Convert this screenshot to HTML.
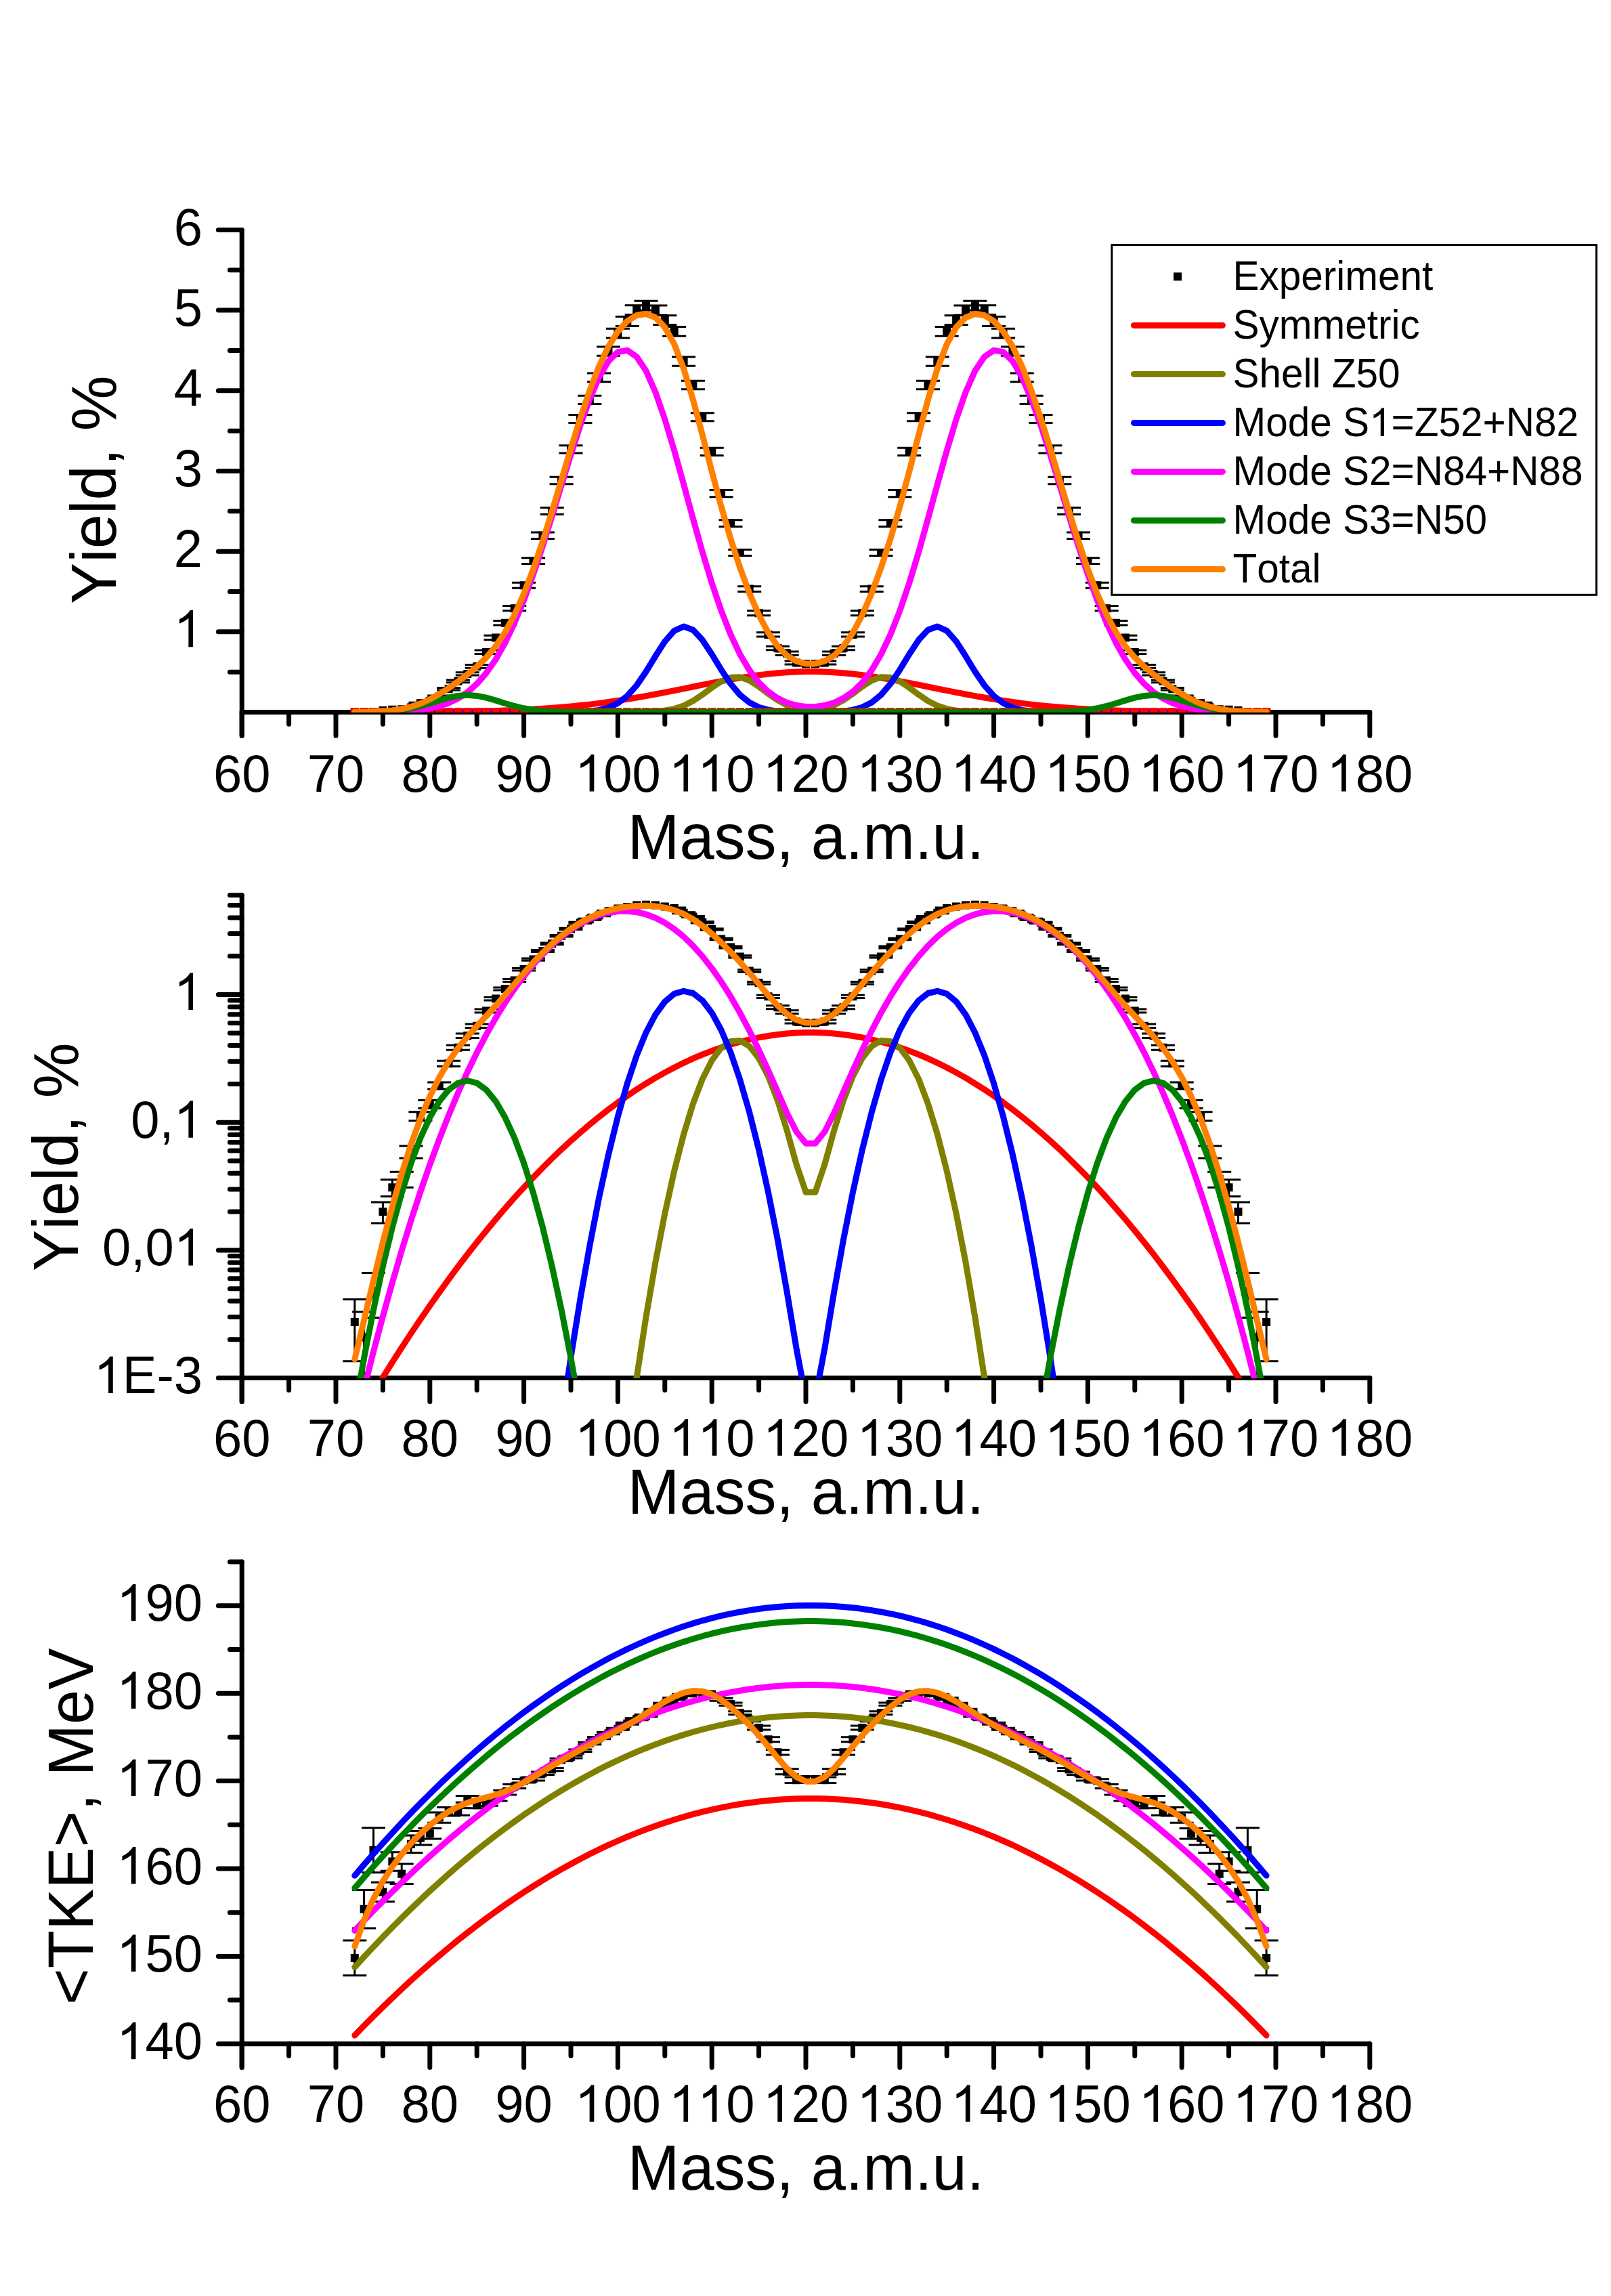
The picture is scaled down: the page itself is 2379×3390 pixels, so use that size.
<!DOCTYPE html><html><head><meta charset="utf-8"><style>html,body{margin:0;padding:0;background:#fff;}svg{display:block;}text{font-family:"Liberation Sans",sans-serif;fill:#000;font-kerning:none;}</style></head><body>
<svg width="2379" height="3390" viewBox="0 0 2379 3390">
<rect width="2379" height="3390" fill="#fff"/>
<path d="M357.2 339.5 V1086.3" stroke="#000" stroke-width="7" stroke-linecap="round" fill="none"/><path d="M357.2 992.2 H339.4 M357.2 932.8 H322.4 M357.2 873.5 H339.4 M357.2 814.2 H322.4 M357.2 754.8 H339.4 M357.2 695.5 H322.4 M357.2 636.2 H339.4 M357.2 576.8 H322.4 M357.2 517.5 H339.4 M357.2 458.1 H322.4 M357.2 398.8 H339.4 M357.2 339.5 H322.4 " stroke="#000" stroke-width="7" stroke-linecap="round" fill="none"/><text transform="translate(256.73,955.33) scale(1,1.035)" font-size="76"> </text><path transform="translate(256.73,955.33) scale(0.03711,-0.03711)" d="M763 0H583V1147Q518 1085 412 1023Q306 961 222 930V1104Q373 1175 486 1276Q599 1377 646 1466H763Z"/><text transform="translate(256.73,836.66) scale(1,1.035)" font-size="76">2</text><text transform="translate(256.73,717.99) scale(1,1.035)" font-size="76">3</text><text transform="translate(256.73,599.32) scale(1,1.035)" font-size="76">4</text><text transform="translate(256.73,480.65) scale(1,1.035)" font-size="76">5</text><text transform="translate(256.73,361.98) scale(1,1.035)" font-size="76">6</text><path d="M357.2 1051.5 H2022.8" stroke="#000" stroke-width="7" stroke-linecap="round" fill="none"/><path d="M357.2 1051.5 V1086.3 M426.6 1051.5 V1069.3 M496.0 1051.5 V1086.3 M565.4 1051.5 V1069.3 M634.8 1051.5 V1086.3 M704.2 1051.5 V1069.3 M773.6 1051.5 V1086.3 M843.0 1051.5 V1069.3 M912.4 1051.5 V1086.3 M981.8 1051.5 V1069.3 M1051.2 1051.5 V1086.3 M1120.6 1051.5 V1069.3 M1190.0 1051.5 V1086.3 M1259.4 1051.5 V1069.3 M1328.8 1051.5 V1086.3 M1398.2 1051.5 V1069.3 M1467.6 1051.5 V1086.3 M1537.0 1051.5 V1069.3 M1606.4 1051.5 V1086.3 M1675.8 1051.5 V1069.3 M1745.2 1051.5 V1086.3 M1814.6 1051.5 V1069.3 M1884.0 1051.5 V1086.3 M1953.4 1051.5 V1069.3 M2022.8 1051.5 V1086.3 " stroke="#000" stroke-width="7" stroke-linecap="round" fill="none"/><text transform="translate(314.93,1168.50) scale(1,1.035)" font-size="76">60</text><text transform="translate(453.73,1168.50) scale(1,1.035)" font-size="76">70</text><text transform="translate(592.53,1168.50) scale(1,1.035)" font-size="76">80</text><text transform="translate(731.33,1168.50) scale(1,1.035)" font-size="76">90</text><text transform="translate(849.00,1168.50) scale(1,1.035)" font-size="76"> 00</text><path transform="translate(849.00,1168.50) scale(0.03711,-0.03711)" d="M763 0H583V1147Q518 1085 412 1023Q306 961 222 930V1104Q373 1175 486 1276Q599 1377 646 1466H763Z"/><text transform="translate(987.80,1168.50) scale(1,1.035)" font-size="76">  0</text><path transform="translate(987.80,1168.50) scale(0.03711,-0.03711)" d="M763 0H583V1147Q518 1085 412 1023Q306 961 222 930V1104Q373 1175 486 1276Q599 1377 646 1466H763Z"/><path transform="translate(1030.07,1168.50) scale(0.03711,-0.03711)" d="M763 0H583V1147Q518 1085 412 1023Q306 961 222 930V1104Q373 1175 486 1276Q599 1377 646 1466H763Z"/><text transform="translate(1126.60,1168.50) scale(1,1.035)" font-size="76"> 20</text><path transform="translate(1126.60,1168.50) scale(0.03711,-0.03711)" d="M763 0H583V1147Q518 1085 412 1023Q306 961 222 930V1104Q373 1175 486 1276Q599 1377 646 1466H763Z"/><text transform="translate(1265.40,1168.50) scale(1,1.035)" font-size="76"> 30</text><path transform="translate(1265.40,1168.50) scale(0.03711,-0.03711)" d="M763 0H583V1147Q518 1085 412 1023Q306 961 222 930V1104Q373 1175 486 1276Q599 1377 646 1466H763Z"/><text transform="translate(1404.20,1168.50) scale(1,1.035)" font-size="76"> 40</text><path transform="translate(1404.20,1168.50) scale(0.03711,-0.03711)" d="M763 0H583V1147Q518 1085 412 1023Q306 961 222 930V1104Q373 1175 486 1276Q599 1377 646 1466H763Z"/><text transform="translate(1543.00,1168.50) scale(1,1.035)" font-size="76"> 50</text><path transform="translate(1543.00,1168.50) scale(0.03711,-0.03711)" d="M763 0H583V1147Q518 1085 412 1023Q306 961 222 930V1104Q373 1175 486 1276Q599 1377 646 1466H763Z"/><text transform="translate(1681.80,1168.50) scale(1,1.035)" font-size="76"> 60</text><path transform="translate(1681.80,1168.50) scale(0.03711,-0.03711)" d="M763 0H583V1147Q518 1085 412 1023Q306 961 222 930V1104Q373 1175 486 1276Q599 1377 646 1466H763Z"/><text transform="translate(1820.60,1168.50) scale(1,1.035)" font-size="76"> 70</text><path transform="translate(1820.60,1168.50) scale(0.03711,-0.03711)" d="M763 0H583V1147Q518 1085 412 1023Q306 961 222 930V1104Q373 1175 486 1276Q599 1377 646 1466H763Z"/><text transform="translate(1959.40,1168.50) scale(1,1.035)" font-size="76"> 80</text><path transform="translate(1959.40,1168.50) scale(0.03711,-0.03711)" d="M763 0H583V1147Q518 1085 412 1023Q306 961 222 930V1104Q373 1175 486 1276Q599 1377 646 1466H763Z"/><text transform="translate(1190,1267.9) scale(1,1.035)" font-size="92" text-anchor="middle">Mass, a.m.u.</text><text transform="translate(170.9,892.0) rotate(-90) scale(1,1.035)" font-size="92">Yield, %</text><defs><clipPath id="c1"><rect x="0" y="200" width="2379" height="852"/></clipPath></defs><g clip-path="url(#c1)"><path d="M523.8 1051.0 V1051.3 M506.3 1051.0 H541.3 M506.3 1051.3 H541.3 M537.6 1051.1 V1051.4 M520.1 1051.1 H555.1 M520.1 1051.4 H555.1 M551.5 1050.7 V1051.1 M534.0 1050.7 H569.0 M534.0 1051.1 H569.0 M565.4 1048.7 V1049.6 M547.9 1048.7 H582.9 M547.9 1049.6 H582.9 M579.3 1047.3 V1048.4 M561.8 1047.3 H596.8 M561.8 1048.4 H596.8 M593.2 1046.6 V1047.8 M575.7 1046.6 H610.7 M575.7 1047.8 H610.7 M607.0 1043.7 V1045.3 M589.5 1043.7 H624.5 M589.5 1045.3 H624.5 M620.9 1037.2 V1039.3 M603.4 1037.2 H638.4 M603.4 1039.3 H638.4 M634.8 1033.8 V1036.2 M617.3 1033.8 H652.3 M617.3 1036.2 H652.3 M648.7 1027.1 V1029.9 M631.2 1027.1 H666.2 M631.2 1029.9 H666.2 M662.6 1015.5 V1018.9 M645.1 1015.5 H680.1 M645.1 1018.9 H680.1 M676.4 1003.9 V1007.8 M658.9 1003.9 H693.9 M658.9 1007.8 H693.9 M690.3 992.7 V997.1 M672.8 992.7 H707.8 M672.8 997.1 H707.8 M704.2 981.6 V986.3 M686.7 981.6 H721.7 M686.7 986.3 H721.7 M718.1 960.1 V965.6 M700.6 960.1 H735.6 M700.6 965.6 H735.6 M732.0 938.3 V944.4 M714.5 938.3 H749.5 M714.5 944.4 H749.5 M745.8 916.5 V923.1 M728.3 916.5 H763.3 M728.3 923.1 H763.3 M759.7 894.6 V901.7 M742.2 894.6 H777.2 M742.2 901.7 H777.2 M773.6 860.3 V868.2 M756.1 860.3 H791.1 M756.1 868.2 H791.1 M787.5 823.7 V832.4 M770.0 823.7 H805.0 M770.0 832.4 H805.0 M801.4 786.1 V795.4 M783.9 786.1 H818.9 M783.9 795.4 H818.9 M815.2 749.5 V759.4 M797.7 749.5 H832.7 M797.7 759.4 H832.7 M829.1 704.2 V714.8 M811.6 704.2 H846.6 M811.6 714.8 H846.6 M843.0 657.8 V669.1 M825.5 657.8 H860.5 M825.5 669.1 H860.5 M856.9 612.4 V624.4 M839.4 612.4 H874.4 M839.4 624.4 H874.4 M870.8 584.2 V596.5 M853.3 584.2 H888.3 M853.3 596.5 H888.3 M884.6 551.0 V563.8 M867.1 551.0 H902.1 M867.1 563.8 H902.1 M898.5 512.0 V525.3 M881.0 512.0 H916.0 M881.0 525.3 H916.0 M912.4 485.3 V498.9 M894.9 485.3 H929.9 M894.9 498.9 H929.9 M926.3 467.6 V481.4 M908.8 467.6 H943.8 M908.8 481.4 H943.8 M940.2 450.7 V464.7 M922.7 450.7 H957.7 M922.7 464.7 H957.7 M954.0 444.2 V458.3 M936.5 444.2 H971.5 M936.5 458.3 H971.5 M967.9 451.1 V465.2 M950.4 451.1 H985.4 M950.4 465.2 H985.4 M981.8 465.7 V479.6 M964.3 465.7 H999.3 M964.3 479.6 H999.3 M995.7 482.5 V496.2 M978.2 482.5 H1013.2 M978.2 496.2 H1013.2 M1009.6 527.1 V540.2 M992.1 527.1 H1027.1 M992.1 540.2 H1027.1 M1023.4 562.2 V574.8 M1005.9 562.2 H1040.9 M1005.9 574.8 H1040.9 M1037.3 609.7 V621.8 M1019.8 609.7 H1054.8 M1019.8 621.8 H1054.8 M1051.2 661.2 V672.5 M1033.7 661.2 H1068.7 M1033.7 672.5 H1068.7 M1065.1 723.4 V733.8 M1047.6 723.4 H1082.6 M1047.6 733.8 H1082.6 M1079.0 767.8 V777.4 M1061.5 767.8 H1096.5 M1061.5 777.4 H1096.5 M1092.8 811.6 V820.5 M1075.3 811.6 H1110.3 M1075.3 820.5 H1110.3 M1106.7 865.7 V873.5 M1089.2 865.7 H1124.2 M1089.2 873.5 H1124.2 M1120.6 901.7 V908.7 M1103.1 901.7 H1138.1 M1103.1 908.7 H1138.1 M1134.5 933.8 V940.0 M1117.0 933.8 H1152.0 M1117.0 940.0 H1152.0 M1148.4 954.2 V959.8 M1130.9 954.2 H1165.9 M1130.9 959.8 H1165.9 M1162.2 962.1 V967.4 M1144.7 962.1 H1179.7 M1144.7 967.4 H1179.7 M1176.1 975.9 V980.9 M1158.6 975.9 H1193.6 M1158.6 980.9 H1193.6 M1190.0 977.9 V982.7 M1172.5 977.9 H1207.5 M1172.5 982.7 H1207.5 M1203.9 977.9 V982.7 M1186.4 977.9 H1221.4 M1186.4 982.7 H1221.4 M1217.8 975.9 V980.9 M1200.3 975.9 H1235.3 M1200.3 980.9 H1235.3 M1231.6 962.1 V967.4 M1214.1 962.1 H1249.1 M1214.1 967.4 H1249.1 M1245.5 954.2 V959.8 M1228.0 954.2 H1263.0 M1228.0 959.8 H1263.0 M1259.4 933.8 V940.0 M1241.9 933.8 H1276.9 M1241.9 940.0 H1276.9 M1273.3 901.7 V908.7 M1255.8 901.7 H1290.8 M1255.8 908.7 H1290.8 M1287.2 865.7 V873.5 M1269.7 865.7 H1304.7 M1269.7 873.5 H1304.7 M1301.0 811.6 V820.5 M1283.5 811.6 H1318.5 M1283.5 820.5 H1318.5 M1314.9 767.8 V777.4 M1297.4 767.8 H1332.4 M1297.4 777.4 H1332.4 M1328.8 723.4 V733.8 M1311.3 723.4 H1346.3 M1311.3 733.8 H1346.3 M1342.7 661.2 V672.5 M1325.2 661.2 H1360.2 M1325.2 672.5 H1360.2 M1356.6 609.7 V621.8 M1339.1 609.7 H1374.1 M1339.1 621.8 H1374.1 M1370.4 562.2 V574.8 M1352.9 562.2 H1387.9 M1352.9 574.8 H1387.9 M1384.3 527.1 V540.2 M1366.8 527.1 H1401.8 M1366.8 540.2 H1401.8 M1398.2 482.5 V496.2 M1380.7 482.5 H1415.7 M1380.7 496.2 H1415.7 M1412.1 465.7 V479.6 M1394.6 465.7 H1429.6 M1394.6 479.6 H1429.6 M1426.0 451.1 V465.2 M1408.5 451.1 H1443.5 M1408.5 465.2 H1443.5 M1439.8 444.2 V458.3 M1422.3 444.2 H1457.3 M1422.3 458.3 H1457.3 M1453.7 450.7 V464.7 M1436.2 450.7 H1471.2 M1436.2 464.7 H1471.2 M1467.6 467.6 V481.4 M1450.1 467.6 H1485.1 M1450.1 481.4 H1485.1 M1481.5 485.3 V498.9 M1464.0 485.3 H1499.0 M1464.0 498.9 H1499.0 M1495.4 512.0 V525.3 M1477.9 512.0 H1512.9 M1477.9 525.3 H1512.9 M1509.2 551.0 V563.8 M1491.7 551.0 H1526.7 M1491.7 563.8 H1526.7 M1523.1 584.2 V596.5 M1505.6 584.2 H1540.6 M1505.6 596.5 H1540.6 M1537.0 612.4 V624.4 M1519.5 612.4 H1554.5 M1519.5 624.4 H1554.5 M1550.9 657.8 V669.1 M1533.4 657.8 H1568.4 M1533.4 669.1 H1568.4 M1564.8 704.2 V714.8 M1547.3 704.2 H1582.3 M1547.3 714.8 H1582.3 M1578.6 749.5 V759.4 M1561.1 749.5 H1596.1 M1561.1 759.4 H1596.1 M1592.5 786.1 V795.4 M1575.0 786.1 H1610.0 M1575.0 795.4 H1610.0 M1606.4 823.7 V832.4 M1588.9 823.7 H1623.9 M1588.9 832.4 H1623.9 M1620.3 860.3 V868.2 M1602.8 860.3 H1637.8 M1602.8 868.2 H1637.8 M1634.2 894.6 V901.7 M1616.7 894.6 H1651.7 M1616.7 901.7 H1651.7 M1648.0 916.5 V923.1 M1630.5 916.5 H1665.5 M1630.5 923.1 H1665.5 M1661.9 938.3 V944.4 M1644.4 938.3 H1679.4 M1644.4 944.4 H1679.4 M1675.8 960.1 V965.6 M1658.3 960.1 H1693.3 M1658.3 965.6 H1693.3 M1689.7 981.6 V986.3 M1672.2 981.6 H1707.2 M1672.2 986.3 H1707.2 M1703.6 992.7 V997.1 M1686.1 992.7 H1721.1 M1686.1 997.1 H1721.1 M1717.4 1003.9 V1007.8 M1699.9 1003.9 H1734.9 M1699.9 1007.8 H1734.9 M1731.3 1015.5 V1018.9 M1713.8 1015.5 H1748.8 M1713.8 1018.9 H1748.8 M1745.2 1027.1 V1029.9 M1727.7 1027.1 H1762.7 M1727.7 1029.9 H1762.7 M1759.1 1033.8 V1036.2 M1741.6 1033.8 H1776.6 M1741.6 1036.2 H1776.6 M1773.0 1037.2 V1039.3 M1755.5 1037.2 H1790.5 M1755.5 1039.3 H1790.5 M1786.8 1043.7 V1045.3 M1769.3 1043.7 H1804.3 M1769.3 1045.3 H1804.3 M1800.7 1046.6 V1047.8 M1783.2 1046.6 H1818.2 M1783.2 1047.8 H1818.2 M1814.6 1047.3 V1048.4 M1797.1 1047.3 H1832.1 M1797.1 1048.4 H1832.1 M1828.5 1048.7 V1049.6 M1811.0 1048.7 H1846.0 M1811.0 1049.6 H1846.0 M1842.4 1050.7 V1051.1 M1824.9 1050.7 H1859.9 M1824.9 1051.1 H1859.9 M1856.2 1051.1 V1051.4 M1838.7 1051.1 H1873.7 M1838.7 1051.4 H1873.7 M1870.1 1051.0 V1051.3 M1852.6 1051.0 H1887.6 M1852.6 1051.3 H1887.6 " stroke="#000" stroke-width="3" fill="none"/><path d="M517.8 1045.2 h12 v12 h-12 z M531.6 1045.3 h12 v12 h-12 z M545.5 1044.9 h12 v12 h-12 z M559.4 1043.1 h12 v12 h-12 z M573.3 1041.8 h12 v12 h-12 z M587.2 1041.2 h12 v12 h-12 z M601.0 1038.5 h12 v12 h-12 z M614.9 1032.2 h12 v12 h-12 z M628.8 1029.0 h12 v12 h-12 z M642.7 1022.5 h12 v12 h-12 z M656.6 1011.2 h12 v12 h-12 z M670.4 999.8 h12 v12 h-12 z M684.3 988.9 h12 v12 h-12 z M698.2 978.0 h12 v12 h-12 z M712.1 956.9 h12 v12 h-12 z M726.0 935.4 h12 v12 h-12 z M739.8 913.8 h12 v12 h-12 z M753.7 892.2 h12 v12 h-12 z M767.6 858.2 h12 v12 h-12 z M781.5 822.0 h12 v12 h-12 z M795.4 784.8 h12 v12 h-12 z M809.2 748.5 h12 v12 h-12 z M823.1 703.5 h12 v12 h-12 z M837.0 657.4 h12 v12 h-12 z M850.9 612.4 h12 v12 h-12 z M864.8 584.3 h12 v12 h-12 z M878.6 551.4 h12 v12 h-12 z M892.5 512.7 h12 v12 h-12 z M906.4 486.1 h12 v12 h-12 z M920.3 468.5 h12 v12 h-12 z M934.2 451.7 h12 v12 h-12 z M948.0 445.3 h12 v12 h-12 z M961.9 452.1 h12 v12 h-12 z M975.8 466.6 h12 v12 h-12 z M989.7 483.4 h12 v12 h-12 z M1003.6 527.6 h12 v12 h-12 z M1017.4 562.5 h12 v12 h-12 z M1031.3 609.7 h12 v12 h-12 z M1045.2 660.9 h12 v12 h-12 z M1059.1 722.6 h12 v12 h-12 z M1073.0 766.6 h12 v12 h-12 z M1086.8 810.1 h12 v12 h-12 z M1100.7 863.6 h12 v12 h-12 z M1114.6 899.2 h12 v12 h-12 z M1128.5 930.9 h12 v12 h-12 z M1142.4 951.0 h12 v12 h-12 z M1156.2 958.8 h12 v12 h-12 z M1170.1 972.4 h12 v12 h-12 z M1184.0 974.3 h12 v12 h-12 z M1197.9 974.3 h12 v12 h-12 z M1211.8 972.4 h12 v12 h-12 z M1225.6 958.8 h12 v12 h-12 z M1239.5 951.0 h12 v12 h-12 z M1253.4 930.9 h12 v12 h-12 z M1267.3 899.2 h12 v12 h-12 z M1281.2 863.6 h12 v12 h-12 z M1295.0 810.1 h12 v12 h-12 z M1308.9 766.6 h12 v12 h-12 z M1322.8 722.6 h12 v12 h-12 z M1336.7 660.9 h12 v12 h-12 z M1350.6 609.7 h12 v12 h-12 z M1364.4 562.5 h12 v12 h-12 z M1378.3 527.6 h12 v12 h-12 z M1392.2 483.4 h12 v12 h-12 z M1406.1 466.6 h12 v12 h-12 z M1420.0 452.1 h12 v12 h-12 z M1433.8 445.3 h12 v12 h-12 z M1447.7 451.7 h12 v12 h-12 z M1461.6 468.5 h12 v12 h-12 z M1475.5 486.1 h12 v12 h-12 z M1489.4 512.7 h12 v12 h-12 z M1503.2 551.4 h12 v12 h-12 z M1517.1 584.3 h12 v12 h-12 z M1531.0 612.4 h12 v12 h-12 z M1544.9 657.4 h12 v12 h-12 z M1558.8 703.5 h12 v12 h-12 z M1572.6 748.5 h12 v12 h-12 z M1586.5 784.8 h12 v12 h-12 z M1600.4 822.0 h12 v12 h-12 z M1614.3 858.2 h12 v12 h-12 z M1628.2 892.2 h12 v12 h-12 z M1642.0 913.8 h12 v12 h-12 z M1655.9 935.4 h12 v12 h-12 z M1669.8 956.9 h12 v12 h-12 z M1683.7 978.0 h12 v12 h-12 z M1697.6 988.9 h12 v12 h-12 z M1711.4 999.8 h12 v12 h-12 z M1725.3 1011.2 h12 v12 h-12 z M1739.2 1022.5 h12 v12 h-12 z M1753.1 1029.0 h12 v12 h-12 z M1767.0 1032.2 h12 v12 h-12 z M1780.8 1038.5 h12 v12 h-12 z M1794.7 1041.2 h12 v12 h-12 z M1808.6 1041.8 h12 v12 h-12 z M1822.5 1043.1 h12 v12 h-12 z M1836.4 1044.9 h12 v12 h-12 z M1850.2 1045.3 h12 v12 h-12 z M1864.1 1045.2 h12 v12 h-12 z " fill="#000"/><polyline fill="none" stroke="#ff0000" stroke-width="9" stroke-linejoin="round" stroke-linecap="round" points="523.8,1051.4 537.6,1051.4 551.5,1051.4 565.4,1051.4 579.3,1051.3 593.2,1051.3 607.0,1051.2 620.9,1051.2 634.8,1051.1 648.7,1050.9 662.6,1050.8 676.4,1050.6 690.3,1050.4 704.2,1050.1 718.1,1049.8 732.0,1049.4 745.8,1049.0 759.7,1048.4 773.6,1047.8 787.5,1047.1 801.4,1046.3 815.2,1045.3 829.1,1044.2 843.0,1043.0 856.9,1041.6 870.8,1040.1 884.6,1038.4 898.5,1036.5 912.4,1034.5 926.3,1032.3 940.2,1030.0 954.0,1027.6 967.9,1025.0 981.8,1022.4 995.7,1019.6 1009.6,1016.8 1023.4,1014.0 1037.3,1011.2 1051.2,1008.4 1065.1,1005.8 1079.0,1003.2 1092.8,1000.9 1106.7,998.7 1120.6,996.8 1134.5,995.1 1148.4,993.7 1162.2,992.7 1176.1,992.0 1190.0,991.6 1203.9,991.6 1217.8,992.0 1231.6,992.7 1245.5,993.7 1259.4,995.1 1273.3,996.8 1287.2,998.7 1301.0,1000.9 1314.9,1003.2 1328.8,1005.8 1342.7,1008.4 1356.6,1011.2 1370.4,1014.0 1384.3,1016.8 1398.2,1019.6 1412.1,1022.4 1426.0,1025.0 1439.8,1027.6 1453.7,1030.0 1467.6,1032.3 1481.5,1034.5 1495.4,1036.5 1509.2,1038.4 1523.1,1040.1 1537.0,1041.6 1550.9,1043.0 1564.8,1044.2 1578.6,1045.3 1592.5,1046.3 1606.4,1047.1 1620.3,1047.8 1634.2,1048.4 1648.0,1049.0 1661.9,1049.4 1675.8,1049.8 1689.7,1050.1 1703.6,1050.4 1717.4,1050.6 1731.3,1050.8 1745.2,1050.9 1759.1,1051.1 1773.0,1051.2 1786.8,1051.2 1800.7,1051.3 1814.6,1051.3 1828.5,1051.4 1842.4,1051.4 1856.2,1051.4 1870.1,1051.4"/><polyline fill="none" stroke="#808000" stroke-width="9" stroke-linejoin="round" stroke-linecap="round" points="523.8,1051.5 537.6,1051.5 551.5,1051.5 565.4,1051.5 579.3,1051.5 593.2,1051.5 607.0,1051.5 620.9,1051.5 634.8,1051.5 648.7,1051.5 662.6,1051.5 676.4,1051.5 690.3,1051.5 704.2,1051.5 718.1,1051.5 732.0,1051.5 745.8,1051.5 759.7,1051.5 773.6,1051.5 787.5,1051.5 801.4,1051.5 815.2,1051.5 829.1,1051.5 843.0,1051.5 856.9,1051.5 870.8,1051.5 884.6,1051.5 898.5,1051.5 912.4,1051.5 926.3,1051.5 940.2,1051.4 954.0,1051.1 967.9,1050.5 981.8,1049.2 995.7,1046.6 1009.6,1041.9 1023.4,1034.9 1037.3,1025.6 1051.2,1015.3 1065.1,1006.0 1079.0,1000.3 1092.8,999.8 1106.7,1004.7 1120.6,1013.7 1134.5,1024.3 1148.4,1033.9 1162.2,1041.3 1176.1,1045.9 1190.0,1048.1 1203.9,1048.1 1217.8,1045.9 1231.6,1041.3 1245.5,1033.9 1259.4,1024.3 1273.3,1013.7 1287.2,1004.7 1301.0,999.8 1314.9,1000.3 1328.8,1006.0 1342.7,1015.3 1356.6,1025.6 1370.4,1034.9 1384.3,1041.9 1398.2,1046.6 1412.1,1049.2 1426.0,1050.5 1439.8,1051.1 1453.7,1051.4 1467.6,1051.5 1481.5,1051.5 1495.4,1051.5 1509.2,1051.5 1523.1,1051.5 1537.0,1051.5 1550.9,1051.5 1564.8,1051.5 1578.6,1051.5 1592.5,1051.5 1606.4,1051.5 1620.3,1051.5 1634.2,1051.5 1648.0,1051.5 1661.9,1051.5 1675.8,1051.5 1689.7,1051.5 1703.6,1051.5 1717.4,1051.5 1731.3,1051.5 1745.2,1051.5 1759.1,1051.5 1773.0,1051.5 1786.8,1051.5 1800.7,1051.5 1814.6,1051.5 1828.5,1051.5 1842.4,1051.5 1856.2,1051.5 1870.1,1051.5"/><polyline fill="none" stroke="#0000ff" stroke-width="9" stroke-linejoin="round" stroke-linecap="round" points="523.8,1051.5 537.6,1051.5 551.5,1051.5 565.4,1051.5 579.3,1051.5 593.2,1051.5 607.0,1051.5 620.9,1051.5 634.8,1051.5 648.7,1051.5 662.6,1051.5 676.4,1051.5 690.3,1051.5 704.2,1051.5 718.1,1051.5 732.0,1051.5 745.8,1051.5 759.7,1051.5 773.6,1051.5 787.5,1051.5 801.4,1051.5 815.2,1051.5 829.1,1051.4 843.0,1051.3 856.9,1051.0 870.8,1050.2 884.6,1048.4 898.5,1044.9 912.4,1038.3 926.3,1027.6 940.2,1011.9 954.0,991.6 967.9,968.8 981.8,947.1 995.7,931.3 1009.6,925.0 1023.4,930.0 1037.3,944.9 1051.2,966.0 1065.1,988.9 1079.0,1009.7 1092.8,1026.0 1106.7,1037.3 1120.6,1044.3 1134.5,1048.1 1148.4,1050.1 1162.2,1050.9 1176.1,1051.3 1190.0,1051.4 1203.9,1051.4 1217.8,1051.3 1231.6,1050.9 1245.5,1050.1 1259.4,1048.1 1273.3,1044.3 1287.2,1037.3 1301.0,1026.0 1314.9,1009.7 1328.8,988.9 1342.7,966.0 1356.6,944.9 1370.4,930.0 1384.3,925.0 1398.2,931.3 1412.1,947.1 1426.0,968.8 1439.8,991.6 1453.7,1011.9 1467.6,1027.6 1481.5,1038.3 1495.4,1044.9 1509.2,1048.4 1523.1,1050.2 1537.0,1051.0 1550.9,1051.3 1564.8,1051.4 1578.6,1051.5 1592.5,1051.5 1606.4,1051.5 1620.3,1051.5 1634.2,1051.5 1648.0,1051.5 1661.9,1051.5 1675.8,1051.5 1689.7,1051.5 1703.6,1051.5 1717.4,1051.5 1731.3,1051.5 1745.2,1051.5 1759.1,1051.5 1773.0,1051.5 1786.8,1051.5 1800.7,1051.5 1814.6,1051.5 1828.5,1051.5 1842.4,1051.5 1856.2,1051.5 1870.1,1051.5"/><path fill="#ff0000" d="M517.6 1044.9h12.4v13h-12.4zM531.4 1044.9h12.4v13h-12.4zM545.3 1044.9h12.4v13h-12.4zM559.2 1044.9h12.4v13h-12.4zM573.1 1044.9h12.4v13h-12.4zM587.0 1044.9h12.4v13h-12.4zM600.8 1044.9h12.4v13h-12.4zM614.7 1044.9h12.4v13h-12.4zM628.6 1044.9h12.4v13h-12.4zM642.5 1044.9h12.4v13h-12.4zM656.4 1044.9h12.4v13h-12.4zM670.2 1044.9h12.4v13h-12.4zM684.1 1044.9h12.4v13h-12.4zM698.0 1044.9h12.4v13h-12.4zM711.9 1044.9h12.4v13h-12.4zM725.8 1044.9h12.4v13h-12.4zM739.6 1044.9h12.4v13h-12.4zM753.5 1044.9h12.4v13h-12.4zM767.4 1044.9h12.4v13h-12.4zM781.3 1044.9h12.4v13h-12.4zM795.2 1044.9h12.4v13h-12.4zM809.0 1044.9h12.4v13h-12.4zM822.9 1044.9h12.4v13h-12.4zM836.8 1044.9h12.4v13h-12.4zM850.7 1044.9h12.4v13h-12.4zM864.6 1044.9h12.4v13h-12.4zM878.4 1044.9h12.4v13h-12.4zM892.3 1044.9h12.4v13h-12.4zM906.2 1044.9h12.4v13h-12.4zM920.1 1044.9h12.4v13h-12.4zM934.0 1044.9h12.4v13h-12.4zM947.8 1044.9h12.4v13h-12.4zM961.7 1044.9h12.4v13h-12.4zM975.6 1044.9h12.4v13h-12.4zM989.5 1044.9h12.4v13h-12.4zM1003.4 1044.9h12.4v13h-12.4zM1017.2 1044.9h12.4v13h-12.4zM1031.1 1044.9h12.4v13h-12.4zM1045.0 1044.9h12.4v13h-12.4zM1058.9 1044.9h12.4v13h-12.4zM1072.8 1044.9h12.4v13h-12.4zM1086.6 1044.9h12.4v13h-12.4zM1100.5 1044.9h12.4v13h-12.4zM1114.4 1044.9h12.4v13h-12.4zM1128.3 1044.9h12.4v13h-12.4zM1142.2 1044.9h12.4v13h-12.4zM1156.0 1044.9h12.4v13h-12.4zM1169.9 1044.9h12.4v13h-12.4zM1183.8 1044.9h12.4v13h-12.4zM1197.7 1044.9h12.4v13h-12.4zM1211.6 1044.9h12.4v13h-12.4zM1225.4 1044.9h12.4v13h-12.4zM1239.3 1044.9h12.4v13h-12.4zM1253.2 1044.9h12.4v13h-12.4zM1267.1 1044.9h12.4v13h-12.4zM1281.0 1044.9h12.4v13h-12.4zM1294.8 1044.9h12.4v13h-12.4zM1308.7 1044.9h12.4v13h-12.4zM1322.6 1044.9h12.4v13h-12.4zM1336.5 1044.9h12.4v13h-12.4zM1350.4 1044.9h12.4v13h-12.4zM1364.2 1044.9h12.4v13h-12.4zM1378.1 1044.9h12.4v13h-12.4zM1392.0 1044.9h12.4v13h-12.4zM1405.9 1044.9h12.4v13h-12.4zM1419.8 1044.9h12.4v13h-12.4zM1433.6 1044.9h12.4v13h-12.4zM1447.5 1044.9h12.4v13h-12.4zM1461.4 1044.9h12.4v13h-12.4zM1475.3 1044.9h12.4v13h-12.4zM1489.2 1044.9h12.4v13h-12.4zM1503.0 1044.9h12.4v13h-12.4zM1516.9 1044.9h12.4v13h-12.4zM1530.8 1044.9h12.4v13h-12.4zM1544.7 1044.9h12.4v13h-12.4zM1558.6 1044.9h12.4v13h-12.4zM1572.4 1044.9h12.4v13h-12.4zM1586.3 1044.9h12.4v13h-12.4zM1600.2 1044.9h12.4v13h-12.4zM1614.1 1044.9h12.4v13h-12.4zM1628.0 1044.9h12.4v13h-12.4zM1641.8 1044.9h12.4v13h-12.4zM1655.7 1044.9h12.4v13h-12.4zM1669.6 1044.9h12.4v13h-12.4zM1683.5 1044.9h12.4v13h-12.4zM1697.4 1044.9h12.4v13h-12.4zM1711.2 1044.9h12.4v13h-12.4zM1725.1 1044.9h12.4v13h-12.4zM1739.0 1044.9h12.4v13h-12.4zM1752.9 1044.9h12.4v13h-12.4zM1766.8 1044.9h12.4v13h-12.4zM1780.6 1044.9h12.4v13h-12.4zM1794.5 1044.9h12.4v13h-12.4zM1808.4 1044.9h12.4v13h-12.4zM1822.3 1044.9h12.4v13h-12.4zM1836.2 1044.9h12.4v13h-12.4zM1850.0 1044.9h12.4v13h-12.4zM1863.9 1044.9h12.4v13h-12.4z"/><polyline fill="none" stroke="#ff00ff" stroke-width="9" stroke-linejoin="round" stroke-linecap="round" points="523.8,1051.5 537.6,1051.4 551.5,1051.3 565.4,1051.1 579.3,1050.8 593.2,1050.3 607.0,1049.5 620.9,1048.1 634.8,1045.9 648.7,1042.7 662.6,1038.0 676.4,1031.3 690.3,1022.1 704.2,1009.7 718.1,993.8 732.0,973.7 745.8,949.2 759.7,919.9 773.6,886.1 787.5,848.0 801.4,806.3 815.2,762.0 829.1,716.4 843.0,671.1 856.9,628.1 870.8,589.4 884.6,557.1 898.5,533.3 912.4,519.6 926.3,517.2 940.2,526.7 954.0,547.6 967.9,579.0 981.8,619.0 995.7,665.2 1009.6,715.0 1023.4,765.8 1037.3,815.1 1051.2,860.9 1065.1,901.8 1079.0,937.0 1092.8,966.2 1106.7,989.6 1120.6,1007.8 1134.5,1021.3 1148.4,1030.9 1162.2,1037.5 1176.1,1041.5 1190.0,1043.4 1203.9,1043.4 1217.8,1041.5 1231.6,1037.5 1245.5,1030.9 1259.4,1021.3 1273.3,1007.8 1287.2,989.6 1301.0,966.2 1314.9,937.0 1328.8,901.8 1342.7,860.9 1356.6,815.1 1370.4,765.8 1384.3,715.0 1398.2,665.2 1412.1,619.0 1426.0,579.0 1439.8,547.6 1453.7,526.7 1467.6,517.2 1481.5,519.6 1495.4,533.3 1509.2,557.1 1523.1,589.4 1537.0,628.1 1550.9,671.1 1564.8,716.4 1578.6,762.0 1592.5,806.3 1606.4,848.0 1620.3,886.1 1634.2,919.9 1648.0,949.2 1661.9,973.7 1675.8,993.8 1689.7,1009.7 1703.6,1022.1 1717.4,1031.3 1731.3,1038.0 1745.2,1042.7 1759.1,1045.9 1773.0,1048.1 1786.8,1049.5 1800.7,1050.3 1814.6,1050.8 1828.5,1051.1 1842.4,1051.3 1856.2,1051.4 1870.1,1051.5"/><polyline fill="none" stroke="#008000" stroke-width="9" stroke-linejoin="round" stroke-linecap="round" points="523.8,1051.4 537.6,1051.3 551.5,1051.1 565.4,1050.6 579.3,1049.7 593.2,1048.2 607.0,1045.8 620.9,1042.5 634.8,1038.5 648.7,1034.1 662.6,1030.2 676.4,1027.4 690.3,1026.3 704.2,1027.4 718.1,1030.2 732.0,1034.1 745.8,1038.5 759.7,1042.5 773.6,1045.8 787.5,1048.2 801.4,1049.7 815.2,1050.6 829.1,1051.1 843.0,1051.3 856.9,1051.4 870.8,1051.5 884.6,1051.5 898.5,1051.5 912.4,1051.5 926.3,1051.5 940.2,1051.5 954.0,1051.5 967.9,1051.5 981.8,1051.5 995.7,1051.5 1009.6,1051.5 1023.4,1051.5 1037.3,1051.5 1051.2,1051.5 1065.1,1051.5 1079.0,1051.5 1092.8,1051.5 1106.7,1051.5 1120.6,1051.5 1134.5,1051.5 1148.4,1051.5 1162.2,1051.5 1176.1,1051.5 1190.0,1051.5 1203.9,1051.5 1217.8,1051.5 1231.6,1051.5 1245.5,1051.5 1259.4,1051.5 1273.3,1051.5 1287.2,1051.5 1301.0,1051.5 1314.9,1051.5 1328.8,1051.5 1342.7,1051.5 1356.6,1051.5 1370.4,1051.5 1384.3,1051.5 1398.2,1051.5 1412.1,1051.5 1426.0,1051.5 1439.8,1051.5 1453.7,1051.5 1467.6,1051.5 1481.5,1051.5 1495.4,1051.5 1509.2,1051.5 1523.1,1051.5 1537.0,1051.4 1550.9,1051.3 1564.8,1051.1 1578.6,1050.6 1592.5,1049.7 1606.4,1048.2 1620.3,1045.8 1634.2,1042.5 1648.0,1038.5 1661.9,1034.1 1675.8,1030.2 1689.7,1027.4 1703.6,1026.3 1717.4,1027.4 1731.3,1030.2 1745.2,1034.1 1759.1,1038.5 1773.0,1042.5 1786.8,1045.8 1800.7,1048.2 1814.6,1049.7 1828.5,1050.6 1842.4,1051.1 1856.2,1051.3 1870.1,1051.4"/><polyline fill="none" stroke="#ff8000" stroke-width="9" stroke-linejoin="round" stroke-linecap="round" points="523.8,1051.3 537.6,1051.2 551.5,1050.8 565.4,1050.1 579.3,1048.9 593.2,1046.8 607.0,1043.5 620.9,1038.8 634.8,1032.5 648.7,1024.8 662.6,1016.0 676.4,1006.3 690.3,995.8 704.2,984.2 718.1,970.8 732.0,954.3 745.8,933.6 759.7,907.9 773.6,876.7 787.5,840.2 801.4,799.2 815.2,754.9 829.1,708.6 843.0,662.2 856.9,617.6 870.8,576.6 884.6,540.9 898.5,511.7 912.4,489.4 926.3,474.1 940.2,465.5 954.0,463.5 967.9,468.8 981.8,483.2 995.7,508.1 1009.6,544.3 1023.4,590.1 1037.3,642.2 1051.2,696.1 1065.1,748.1 1079.0,795.7 1092.8,838.3 1106.7,875.9 1120.6,908.0 1134.5,934.3 1148.4,954.1 1162.2,967.9 1176.1,976.2 1190.0,980.0 1203.9,980.0 1217.8,976.2 1231.6,967.9 1245.5,954.1 1259.4,934.3 1273.3,908.0 1287.2,875.9 1301.0,838.3 1314.9,795.7 1328.8,748.1 1342.7,696.1 1356.6,642.2 1370.4,590.1 1384.3,544.3 1398.2,508.1 1412.1,483.2 1426.0,468.8 1439.8,463.5 1453.7,465.5 1467.6,474.1 1481.5,489.4 1495.4,511.7 1509.2,540.9 1523.1,576.6 1537.0,617.6 1550.9,662.2 1564.8,708.6 1578.6,754.9 1592.5,799.2 1606.4,840.2 1620.3,876.7 1634.2,907.9 1648.0,933.6 1661.9,954.3 1675.8,970.8 1689.7,984.2 1703.6,995.8 1717.4,1006.3 1731.3,1016.0 1745.2,1024.8 1759.1,1032.5 1773.0,1038.8 1786.8,1043.5 1800.7,1046.8 1814.6,1048.9 1828.5,1050.1 1842.4,1050.8 1856.2,1051.2 1870.1,1051.3"/></g>
<rect x="1641.8" y="361.6" width="715.7" height="516.7" fill="#fff" stroke="#000" stroke-width="3"/>
<rect x="1733" y="402.4" width="12" height="12" fill="#000"/>
<text transform="translate(1820.50,428.10) scale(1,1.035)" font-size="58.5">Experiment</text>
<line x1="1674.4" y1="480.4" x2="1805.4" y2="480.4" stroke="#ff0000" stroke-width="9" stroke-linecap="round"/>
<text transform="translate(1820.50,500.10) scale(1,1.035)" font-size="58.5">Symmetric</text>
<line x1="1674.4" y1="552.4" x2="1805.4" y2="552.4" stroke="#808000" stroke-width="9" stroke-linecap="round"/>
<text transform="translate(1820.50,572.10) scale(1,1.035)" font-size="58.5">Shell Z50</text>
<line x1="1674.4" y1="624.4" x2="1805.4" y2="624.4" stroke="#0000ff" stroke-width="9" stroke-linecap="round"/>
<text transform="translate(1820.50,644.10) scale(1,1.035)" font-size="58.5">Mode S =Z52+N82</text><path transform="translate(2022.11,644.10) scale(0.02856,-0.02856)" d="M763 0H583V1147Q518 1085 412 1023Q306 961 222 930V1104Q373 1175 486 1276Q599 1377 646 1466H763Z"/>
<line x1="1674.4" y1="696.4" x2="1805.4" y2="696.4" stroke="#ff00ff" stroke-width="9" stroke-linecap="round"/>
<text transform="translate(1820.50,716.10) scale(1,1.035)" font-size="58.5">Mode S2=N84+N88</text>
<line x1="1674.4" y1="768.4" x2="1805.4" y2="768.4" stroke="#008000" stroke-width="9" stroke-linecap="round"/>
<text transform="translate(1820.50,788.10) scale(1,1.035)" font-size="58.5">Mode S3=N50</text>
<line x1="1674.4" y1="840.4" x2="1805.4" y2="840.4" stroke="#ff8000" stroke-width="9" stroke-linecap="round"/>
<text transform="translate(1820.50,860.10) scale(1,1.035)" font-size="58.5">Total</text>
<path d="M357.2 1321.7 V2069.4" stroke="#000" stroke-width="7" stroke-linecap="round" fill="none"/><path d="M357.2 2034.6 H322.4 M357.2 1977.8 H339.4 M357.2 1944.6 H339.4 M357.2 1921.0 H339.4 M357.2 1902.7 H339.4 M357.2 1887.8 H339.4 M357.2 1875.1 H339.4 M357.2 1864.2 H339.4 M357.2 1854.5 H339.4 M357.2 1845.9 H322.4 M357.2 1789.1 H339.4 M357.2 1755.9 H339.4 M357.2 1732.3 H339.4 M357.2 1714.0 H339.4 M357.2 1699.1 H339.4 M357.2 1686.4 H339.4 M357.2 1675.5 H339.4 M357.2 1665.8 H339.4 M357.2 1657.2 H322.4 M357.2 1600.4 H339.4 M357.2 1567.2 H339.4 M357.2 1543.6 H339.4 M357.2 1525.3 H339.4 M357.2 1510.4 H339.4 M357.2 1497.7 H339.4 M357.2 1486.8 H339.4 M357.2 1477.1 H339.4 M357.2 1468.5 H322.4 M357.2 1411.7 H339.4 M357.2 1378.5 H339.4 M357.2 1354.9 H339.4 M357.2 1336.6 H339.4 M357.2 1321.7 H339.4 " stroke="#000" stroke-width="7" stroke-linecap="round" fill="none"/><text transform="translate(256.73,1491.00) scale(1,1.035)" font-size="76"> </text><path transform="translate(256.73,1491.00) scale(0.03711,-0.03711)" d="M763 0H583V1147Q518 1085 412 1023Q306 961 222 930V1104Q373 1175 486 1276Q599 1377 646 1466H763Z"/><text transform="translate(193.35,1679.70) scale(1,1.035)" font-size="76">0, </text><path transform="translate(256.73,1679.70) scale(0.03711,-0.03711)" d="M763 0H583V1147Q518 1085 412 1023Q306 961 222 930V1104Q373 1175 486 1276Q599 1377 646 1466H763Z"/><text transform="translate(151.08,1868.40) scale(1,1.035)" font-size="76">0,0 </text><path transform="translate(256.73,1868.40) scale(0.03711,-0.03711)" d="M763 0H583V1147Q518 1085 412 1023Q306 961 222 930V1104Q373 1175 486 1276Q599 1377 646 1466H763Z"/><text transform="translate(138.46,2057.10) scale(1,1.035)" font-size="76"> E-3</text><path transform="translate(138.46,2057.10) scale(0.03711,-0.03711)" d="M763 0H583V1147Q518 1085 412 1023Q306 961 222 930V1104Q373 1175 486 1276Q599 1377 646 1466H763Z"/><path d="M357.2 2034.6 H2022.8" stroke="#000" stroke-width="7" stroke-linecap="round" fill="none"/><path d="M357.2 2034.6 V2069.4 M426.6 2034.6 V2052.4 M496.0 2034.6 V2069.4 M565.4 2034.6 V2052.4 M634.8 2034.6 V2069.4 M704.2 2034.6 V2052.4 M773.6 2034.6 V2069.4 M843.0 2034.6 V2052.4 M912.4 2034.6 V2069.4 M981.8 2034.6 V2052.4 M1051.2 2034.6 V2069.4 M1120.6 2034.6 V2052.4 M1190.0 2034.6 V2069.4 M1259.4 2034.6 V2052.4 M1328.8 2034.6 V2069.4 M1398.2 2034.6 V2052.4 M1467.6 2034.6 V2069.4 M1537.0 2034.6 V2052.4 M1606.4 2034.6 V2069.4 M1675.8 2034.6 V2052.4 M1745.2 2034.6 V2069.4 M1814.6 2034.6 V2052.4 M1884.0 2034.6 V2069.4 M1953.4 2034.6 V2052.4 M2022.8 2034.6 V2069.4 " stroke="#000" stroke-width="7" stroke-linecap="round" fill="none"/><text transform="translate(314.93,2149.60) scale(1,1.035)" font-size="76">60</text><text transform="translate(453.73,2149.60) scale(1,1.035)" font-size="76">70</text><text transform="translate(592.53,2149.60) scale(1,1.035)" font-size="76">80</text><text transform="translate(731.33,2149.60) scale(1,1.035)" font-size="76">90</text><text transform="translate(849.00,2149.60) scale(1,1.035)" font-size="76"> 00</text><path transform="translate(849.00,2149.60) scale(0.03711,-0.03711)" d="M763 0H583V1147Q518 1085 412 1023Q306 961 222 930V1104Q373 1175 486 1276Q599 1377 646 1466H763Z"/><text transform="translate(987.80,2149.60) scale(1,1.035)" font-size="76">  0</text><path transform="translate(987.80,2149.60) scale(0.03711,-0.03711)" d="M763 0H583V1147Q518 1085 412 1023Q306 961 222 930V1104Q373 1175 486 1276Q599 1377 646 1466H763Z"/><path transform="translate(1030.07,2149.60) scale(0.03711,-0.03711)" d="M763 0H583V1147Q518 1085 412 1023Q306 961 222 930V1104Q373 1175 486 1276Q599 1377 646 1466H763Z"/><text transform="translate(1126.60,2149.60) scale(1,1.035)" font-size="76"> 20</text><path transform="translate(1126.60,2149.60) scale(0.03711,-0.03711)" d="M763 0H583V1147Q518 1085 412 1023Q306 961 222 930V1104Q373 1175 486 1276Q599 1377 646 1466H763Z"/><text transform="translate(1265.40,2149.60) scale(1,1.035)" font-size="76"> 30</text><path transform="translate(1265.40,2149.60) scale(0.03711,-0.03711)" d="M763 0H583V1147Q518 1085 412 1023Q306 961 222 930V1104Q373 1175 486 1276Q599 1377 646 1466H763Z"/><text transform="translate(1404.20,2149.60) scale(1,1.035)" font-size="76"> 40</text><path transform="translate(1404.20,2149.60) scale(0.03711,-0.03711)" d="M763 0H583V1147Q518 1085 412 1023Q306 961 222 930V1104Q373 1175 486 1276Q599 1377 646 1466H763Z"/><text transform="translate(1543.00,2149.60) scale(1,1.035)" font-size="76"> 50</text><path transform="translate(1543.00,2149.60) scale(0.03711,-0.03711)" d="M763 0H583V1147Q518 1085 412 1023Q306 961 222 930V1104Q373 1175 486 1276Q599 1377 646 1466H763Z"/><text transform="translate(1681.80,2149.60) scale(1,1.035)" font-size="76"> 60</text><path transform="translate(1681.80,2149.60) scale(0.03711,-0.03711)" d="M763 0H583V1147Q518 1085 412 1023Q306 961 222 930V1104Q373 1175 486 1276Q599 1377 646 1466H763Z"/><text transform="translate(1820.60,2149.60) scale(1,1.035)" font-size="76"> 70</text><path transform="translate(1820.60,2149.60) scale(0.03711,-0.03711)" d="M763 0H583V1147Q518 1085 412 1023Q306 961 222 930V1104Q373 1175 486 1276Q599 1377 646 1466H763Z"/><text transform="translate(1959.40,2149.60) scale(1,1.035)" font-size="76"> 80</text><path transform="translate(1959.40,2149.60) scale(0.03711,-0.03711)" d="M763 0H583V1147Q518 1085 412 1023Q306 961 222 930V1104Q373 1175 486 1276Q599 1377 646 1466H763Z"/><text transform="translate(1190,2235.3) scale(1,1.035)" font-size="92" text-anchor="middle">Mass, a.m.u.</text><text transform="translate(115.2,1877.0) rotate(-90) scale(1,1.035)" font-size="92">Yield, %</text><defs><clipPath id="c2"><rect x="0" y="1200" width="2379" height="835.1"/></clipPath></defs><path d="M523.8 1918.5 V2009.7 M506.3 1918.5 H541.3 M506.3 2009.7 H541.3 M537.6 1937.1 V2034.6 M520.1 1937.1 H555.1 M520.1 2034.6 H555.1 M551.5 1879.5 V1945.5 M534.0 1879.5 H569.0 M534.0 1945.5 H569.0 M565.4 1775.0 V1806.1 M547.9 1775.0 H582.9 M547.9 1806.1 H582.9 M579.3 1741.7 V1766.5 M561.8 1741.7 H596.8 M561.8 1766.5 H596.8 M593.2 1730.2 V1753.2 M575.7 1730.2 H610.7 M575.7 1753.2 H610.7 M607.0 1692.1 V1710.0 M589.5 1692.1 H624.5 M589.5 1710.0 H624.5 M620.9 1641.7 V1654.7 M603.4 1641.7 H638.4 M603.4 1654.7 H638.4 M634.8 1624.6 V1636.2 M617.3 1624.6 H652.3 M617.3 1636.2 H652.3 M648.7 1598.1 V1608.0 M631.2 1598.1 H666.2 M631.2 1608.0 H666.2 M662.6 1566.3 V1574.4 M645.1 1566.3 H680.1 M645.1 1574.4 H680.1 M676.4 1543.3 V1550.3 M658.9 1543.3 H693.9 M658.9 1550.3 H693.9 M690.3 1526.1 V1532.4 M672.8 1526.1 H707.8 M672.8 1532.4 H707.8 M704.2 1511.9 V1517.6 M686.7 1511.9 H721.7 M686.7 1517.6 H721.7 M718.1 1489.9 V1495.0 M700.6 1489.9 H735.6 M700.6 1495.0 H735.6 M732.0 1472.4 V1476.9 M714.5 1472.4 H749.5 M714.5 1476.9 H749.5 M745.8 1457.9 V1462.0 M728.3 1457.9 H763.3 M728.3 1462.0 H763.3 M759.7 1445.6 V1449.4 M742.2 1445.6 H777.2 M742.2 1449.4 H777.2 M773.6 1429.4 V1432.9 M756.1 1429.4 H791.1 M756.1 1432.9 H791.1 M787.5 1415.1 V1418.2 M770.0 1415.1 H805.0 M770.0 1418.2 H805.0 M801.4 1402.5 V1405.5 M783.9 1402.5 H818.9 M783.9 1405.5 H818.9 M815.2 1392.0 V1394.7 M797.7 1392.0 H832.7 M797.7 1394.7 H832.7 M829.1 1380.5 V1383.0 M811.6 1380.5 H846.6 M811.6 1383.0 H846.6 M843.0 1370.2 V1372.6 M825.5 1370.2 H860.5 M825.5 1372.6 H860.5 M856.9 1361.3 V1363.5 M839.4 1361.3 H874.4 M839.4 1363.5 H874.4 M870.8 1356.2 V1358.4 M853.3 1356.2 H888.3 M853.3 1358.4 H888.3 M884.6 1350.5 V1352.7 M867.1 1350.5 H902.1 M867.1 1352.7 H902.1 M898.5 1344.4 V1346.5 M881.0 1344.4 H916.0 M881.0 1346.5 H916.0 M912.4 1340.4 V1342.4 M894.9 1340.4 H929.9 M894.9 1342.4 H929.9 M926.3 1337.9 V1339.9 M908.8 1337.9 H943.8 M908.8 1339.9 H943.8 M940.2 1335.6 V1337.5 M922.7 1335.6 H957.7 M922.7 1337.5 H957.7 M954.0 1334.7 V1336.6 M936.5 1334.7 H971.5 M936.5 1336.6 H971.5 M967.9 1335.6 V1337.6 M950.4 1335.6 H985.4 M950.4 1337.6 H985.4 M981.8 1337.7 V1339.6 M964.3 1337.7 H999.3 M964.3 1339.6 H999.3 M995.7 1340.0 V1342.0 M978.2 1340.0 H1013.2 M978.2 1342.0 H1013.2 M1009.6 1346.7 V1348.8 M992.1 1346.7 H1027.1 M992.1 1348.8 H1027.1 M1023.4 1352.4 V1354.6 M1005.9 1352.4 H1040.9 M1005.9 1354.6 H1040.9 M1037.3 1360.8 V1363.0 M1019.8 1360.8 H1054.8 M1019.8 1363.0 H1054.8 M1051.2 1370.9 V1373.3 M1033.7 1370.9 H1068.7 M1033.7 1373.3 H1068.7 M1065.1 1385.2 V1387.8 M1047.6 1385.2 H1082.6 M1047.6 1387.8 H1082.6 M1079.0 1397.1 V1399.9 M1061.5 1397.1 H1096.5 M1061.5 1399.9 H1096.5 M1092.8 1410.8 V1413.9 M1075.3 1410.8 H1110.3 M1075.3 1413.9 H1110.3 M1106.7 1431.8 V1435.3 M1089.2 1431.8 H1124.2 M1089.2 1435.3 H1124.2 M1120.6 1449.4 V1453.3 M1103.1 1449.4 H1138.1 M1103.1 1453.3 H1138.1 M1134.5 1469.2 V1473.6 M1117.0 1469.2 H1152.0 M1117.0 1473.6 H1152.0 M1148.4 1484.8 V1489.7 M1130.9 1484.8 H1165.9 M1130.9 1489.7 H1165.9 M1162.2 1491.7 V1496.8 M1144.7 1491.7 H1179.7 M1144.7 1496.8 H1179.7 M1176.1 1505.5 V1511.0 M1158.6 1505.5 H1193.6 M1158.6 1511.0 H1193.6 M1190.0 1507.6 V1513.2 M1172.5 1507.6 H1207.5 M1172.5 1513.2 H1207.5 M1203.9 1507.6 V1513.2 M1186.4 1507.6 H1221.4 M1186.4 1513.2 H1221.4 M1217.8 1505.5 V1511.0 M1200.3 1505.5 H1235.3 M1200.3 1511.0 H1235.3 M1231.6 1491.7 V1496.8 M1214.1 1491.7 H1249.1 M1214.1 1496.8 H1249.1 M1245.5 1484.8 V1489.7 M1228.0 1484.8 H1263.0 M1228.0 1489.7 H1263.0 M1259.4 1469.2 V1473.6 M1241.9 1469.2 H1276.9 M1241.9 1473.6 H1276.9 M1273.3 1449.4 V1453.3 M1255.8 1449.4 H1290.8 M1255.8 1453.3 H1290.8 M1287.2 1431.8 V1435.3 M1269.7 1431.8 H1304.7 M1269.7 1435.3 H1304.7 M1301.0 1410.8 V1413.9 M1283.5 1410.8 H1318.5 M1283.5 1413.9 H1318.5 M1314.9 1397.1 V1399.9 M1297.4 1397.1 H1332.4 M1297.4 1399.9 H1332.4 M1328.8 1385.2 V1387.8 M1311.3 1385.2 H1346.3 M1311.3 1387.8 H1346.3 M1342.7 1370.9 V1373.3 M1325.2 1370.9 H1360.2 M1325.2 1373.3 H1360.2 M1356.6 1360.8 V1363.0 M1339.1 1360.8 H1374.1 M1339.1 1363.0 H1374.1 M1370.4 1352.4 V1354.6 M1352.9 1352.4 H1387.9 M1352.9 1354.6 H1387.9 M1384.3 1346.7 V1348.8 M1366.8 1346.7 H1401.8 M1366.8 1348.8 H1401.8 M1398.2 1340.0 V1342.0 M1380.7 1340.0 H1415.7 M1380.7 1342.0 H1415.7 M1412.1 1337.7 V1339.6 M1394.6 1337.7 H1429.6 M1394.6 1339.6 H1429.6 M1426.0 1335.6 V1337.6 M1408.5 1335.6 H1443.5 M1408.5 1337.6 H1443.5 M1439.8 1334.7 V1336.6 M1422.3 1334.7 H1457.3 M1422.3 1336.6 H1457.3 M1453.7 1335.6 V1337.5 M1436.2 1335.6 H1471.2 M1436.2 1337.5 H1471.2 M1467.6 1337.9 V1339.9 M1450.1 1337.9 H1485.1 M1450.1 1339.9 H1485.1 M1481.5 1340.4 V1342.4 M1464.0 1340.4 H1499.0 M1464.0 1342.4 H1499.0 M1495.4 1344.4 V1346.5 M1477.9 1344.4 H1512.9 M1477.9 1346.5 H1512.9 M1509.2 1350.5 V1352.7 M1491.7 1350.5 H1526.7 M1491.7 1352.7 H1526.7 M1523.1 1356.2 V1358.4 M1505.6 1356.2 H1540.6 M1505.6 1358.4 H1540.6 M1537.0 1361.3 V1363.5 M1519.5 1361.3 H1554.5 M1519.5 1363.5 H1554.5 M1550.9 1370.2 V1372.6 M1533.4 1370.2 H1568.4 M1533.4 1372.6 H1568.4 M1564.8 1380.5 V1383.0 M1547.3 1380.5 H1582.3 M1547.3 1383.0 H1582.3 M1578.6 1392.0 V1394.7 M1561.1 1392.0 H1596.1 M1561.1 1394.7 H1596.1 M1592.5 1402.5 V1405.5 M1575.0 1402.5 H1610.0 M1575.0 1405.5 H1610.0 M1606.4 1415.1 V1418.2 M1588.9 1415.1 H1623.9 M1588.9 1418.2 H1623.9 M1620.3 1429.4 V1432.9 M1602.8 1429.4 H1637.8 M1602.8 1432.9 H1637.8 M1634.2 1445.6 V1449.4 M1616.7 1445.6 H1651.7 M1616.7 1449.4 H1651.7 M1648.0 1457.9 V1462.0 M1630.5 1457.9 H1665.5 M1630.5 1462.0 H1665.5 M1661.9 1472.4 V1476.9 M1644.4 1472.4 H1679.4 M1644.4 1476.9 H1679.4 M1675.8 1489.9 V1495.0 M1658.3 1489.9 H1693.3 M1658.3 1495.0 H1693.3 M1689.7 1511.9 V1517.6 M1672.2 1511.9 H1707.2 M1672.2 1517.6 H1707.2 M1703.6 1526.1 V1532.4 M1686.1 1526.1 H1721.1 M1686.1 1532.4 H1721.1 M1717.4 1543.3 V1550.3 M1699.9 1543.3 H1734.9 M1699.9 1550.3 H1734.9 M1731.3 1566.3 V1574.4 M1713.8 1566.3 H1748.8 M1713.8 1574.4 H1748.8 M1745.2 1598.1 V1608.0 M1727.7 1598.1 H1762.7 M1727.7 1608.0 H1762.7 M1759.1 1624.6 V1636.2 M1741.6 1624.6 H1776.6 M1741.6 1636.2 H1776.6 M1773.0 1641.7 V1654.7 M1755.5 1641.7 H1790.5 M1755.5 1654.7 H1790.5 M1786.8 1692.1 V1710.0 M1769.3 1692.1 H1804.3 M1769.3 1710.0 H1804.3 M1800.7 1730.2 V1753.2 M1783.2 1730.2 H1818.2 M1783.2 1753.2 H1818.2 M1814.6 1741.7 V1766.5 M1797.1 1741.7 H1832.1 M1797.1 1766.5 H1832.1 M1828.5 1775.0 V1806.1 M1811.0 1775.0 H1846.0 M1811.0 1806.1 H1846.0 M1842.4 1879.5 V1945.5 M1824.9 1879.5 H1859.9 M1824.9 1945.5 H1859.9 M1856.2 1937.1 V2034.6 M1838.7 1937.1 H1873.7 M1838.7 2034.6 H1873.7 M1870.1 1918.5 V2009.7 M1852.6 1918.5 H1887.6 M1852.6 2009.7 H1887.6 " stroke="#000" stroke-width="3" fill="none"/><path d="M517.8 1946.0 h12 v12 h-12 z M531.6 1968.6 h12 v12 h-12 z M545.5 1900.0 h12 v12 h-12 z M559.4 1783.1 h12 v12 h-12 z M573.3 1747.2 h12 v12 h-12 z M587.2 1734.9 h12 v12 h-12 z M601.0 1694.6 h12 v12 h-12 z M614.9 1641.9 h12 v12 h-12 z M628.8 1624.2 h12 v12 h-12 z M642.7 1596.9 h12 v12 h-12 z M656.6 1564.2 h12 v12 h-12 z M670.4 1540.7 h12 v12 h-12 z M684.3 1523.2 h12 v12 h-12 z M698.2 1508.7 h12 v12 h-12 z M712.1 1486.4 h12 v12 h-12 z M726.0 1468.6 h12 v12 h-12 z M739.8 1453.9 h12 v12 h-12 z M753.7 1441.5 h12 v12 h-12 z M767.6 1425.1 h12 v12 h-12 z M781.5 1410.6 h12 v12 h-12 z M795.4 1398.0 h12 v12 h-12 z M809.2 1387.3 h12 v12 h-12 z M823.1 1375.8 h12 v12 h-12 z M837.0 1365.4 h12 v12 h-12 z M850.9 1356.4 h12 v12 h-12 z M864.8 1351.3 h12 v12 h-12 z M878.6 1345.6 h12 v12 h-12 z M892.5 1339.4 h12 v12 h-12 z M906.4 1335.4 h12 v12 h-12 z M920.3 1332.9 h12 v12 h-12 z M934.2 1330.5 h12 v12 h-12 z M948.0 1329.7 h12 v12 h-12 z M961.9 1330.6 h12 v12 h-12 z M975.8 1332.6 h12 v12 h-12 z M989.7 1335.0 h12 v12 h-12 z M1003.6 1341.8 h12 v12 h-12 z M1017.4 1347.5 h12 v12 h-12 z M1031.3 1355.9 h12 v12 h-12 z M1045.2 1366.1 h12 v12 h-12 z M1059.1 1380.5 h12 v12 h-12 z M1073.0 1392.5 h12 v12 h-12 z M1086.8 1406.4 h12 v12 h-12 z M1100.7 1427.5 h12 v12 h-12 z M1114.6 1445.3 h12 v12 h-12 z M1128.5 1465.3 h12 v12 h-12 z M1142.4 1481.2 h12 v12 h-12 z M1156.2 1488.2 h12 v12 h-12 z M1170.1 1502.2 h12 v12 h-12 z M1184.0 1504.4 h12 v12 h-12 z M1197.9 1504.4 h12 v12 h-12 z M1211.8 1502.2 h12 v12 h-12 z M1225.6 1488.2 h12 v12 h-12 z M1239.5 1481.2 h12 v12 h-12 z M1253.4 1465.3 h12 v12 h-12 z M1267.3 1445.3 h12 v12 h-12 z M1281.2 1427.5 h12 v12 h-12 z M1295.0 1406.4 h12 v12 h-12 z M1308.9 1392.5 h12 v12 h-12 z M1322.8 1380.5 h12 v12 h-12 z M1336.7 1366.1 h12 v12 h-12 z M1350.6 1355.9 h12 v12 h-12 z M1364.4 1347.5 h12 v12 h-12 z M1378.3 1341.8 h12 v12 h-12 z M1392.2 1335.0 h12 v12 h-12 z M1406.1 1332.6 h12 v12 h-12 z M1420.0 1330.6 h12 v12 h-12 z M1433.8 1329.7 h12 v12 h-12 z M1447.7 1330.5 h12 v12 h-12 z M1461.6 1332.9 h12 v12 h-12 z M1475.5 1335.4 h12 v12 h-12 z M1489.4 1339.4 h12 v12 h-12 z M1503.2 1345.6 h12 v12 h-12 z M1517.1 1351.3 h12 v12 h-12 z M1531.0 1356.4 h12 v12 h-12 z M1544.9 1365.4 h12 v12 h-12 z M1558.8 1375.8 h12 v12 h-12 z M1572.6 1387.3 h12 v12 h-12 z M1586.5 1398.0 h12 v12 h-12 z M1600.4 1410.6 h12 v12 h-12 z M1614.3 1425.1 h12 v12 h-12 z M1628.2 1441.5 h12 v12 h-12 z M1642.0 1453.9 h12 v12 h-12 z M1655.9 1468.6 h12 v12 h-12 z M1669.8 1486.4 h12 v12 h-12 z M1683.7 1508.7 h12 v12 h-12 z M1697.6 1523.2 h12 v12 h-12 z M1711.4 1540.7 h12 v12 h-12 z M1725.3 1564.2 h12 v12 h-12 z M1739.2 1596.9 h12 v12 h-12 z M1753.1 1624.2 h12 v12 h-12 z M1767.0 1641.9 h12 v12 h-12 z M1780.8 1694.6 h12 v12 h-12 z M1794.7 1734.9 h12 v12 h-12 z M1808.6 1747.2 h12 v12 h-12 z M1822.5 1783.1 h12 v12 h-12 z M1836.4 1900.0 h12 v12 h-12 z M1850.2 1968.6 h12 v12 h-12 z M1864.1 1946.0 h12 v12 h-12 z " fill="#000"/><g clip-path="url(#c2)"><polyline fill="none" stroke="#ff0000" stroke-width="9" stroke-linejoin="round" stroke-linecap="round" points="523.8,2102.8 537.6,2079.2 551.5,2056.1 565.4,2033.5 579.3,2011.3 593.2,1989.7 607.0,1968.6 620.9,1947.9 634.8,1927.7 648.7,1908.1 662.6,1888.9 676.4,1870.2 690.3,1852.0 704.2,1834.3 718.1,1817.1 732.0,1800.4 745.8,1784.2 759.7,1768.4 773.6,1753.2 787.5,1738.4 801.4,1724.2 815.2,1710.4 829.1,1697.1 843.0,1684.4 856.9,1672.1 870.8,1660.3 884.6,1649.0 898.5,1638.1 912.4,1627.8 926.3,1618.0 940.2,1608.6 954.0,1599.8 967.9,1591.4 981.8,1583.6 995.7,1576.2 1009.6,1569.3 1023.4,1562.9 1037.3,1557.0 1051.2,1551.6 1065.1,1546.7 1079.0,1542.3 1092.8,1538.3 1106.7,1534.9 1120.6,1531.9 1134.5,1529.5 1148.4,1527.5 1162.2,1526.0 1176.1,1525.0 1190.0,1524.6 1203.9,1524.6 1217.8,1525.0 1231.6,1526.0 1245.5,1527.5 1259.4,1529.5 1273.3,1531.9 1287.2,1534.9 1301.0,1538.3 1314.9,1542.3 1328.8,1546.7 1342.7,1551.6 1356.6,1557.0 1370.4,1562.9 1384.3,1569.3 1398.2,1576.2 1412.1,1583.6 1426.0,1591.4 1439.8,1599.8 1453.7,1608.6 1467.6,1618.0 1481.5,1627.8 1495.4,1638.1 1509.2,1649.0 1523.1,1660.3 1537.0,1672.1 1550.9,1684.4 1564.8,1697.1 1578.6,1710.4 1592.5,1724.2 1606.4,1738.4 1620.3,1753.2 1634.2,1768.4 1648.0,1784.2 1661.9,1800.4 1675.8,1817.1 1689.7,1834.3 1703.6,1852.0 1717.4,1870.2 1731.3,1888.9 1745.2,1908.1 1759.1,1927.7 1773.0,1947.9 1786.8,1968.6 1800.7,1989.7 1814.6,2011.3 1828.5,2033.5 1842.4,2056.1 1856.2,2079.2 1870.1,2102.8"/><polyline fill="none" stroke="#808000" stroke-width="9" stroke-linejoin="round" stroke-linecap="round" points="523.8,2600.7 537.6,2600.7 551.5,2600.7 565.4,2600.7 579.3,2600.7 593.2,2600.7 607.0,2600.7 620.9,2600.7 634.8,2600.7 648.7,2600.7 662.6,2600.7 676.4,2600.7 690.3,2600.7 704.2,2600.7 718.1,2600.7 732.0,2600.7 745.8,2600.7 759.7,2600.7 773.6,2600.7 787.5,2600.7 801.4,2600.7 815.2,2600.7 829.1,2600.7 843.0,2600.7 856.9,2600.7 870.8,2600.7 884.6,2480.9 898.5,2355.9 912.4,2239.7 926.3,2132.4 940.2,2034.0 954.0,1944.4 967.9,1863.7 981.8,1791.9 995.7,1728.9 1009.6,1674.8 1023.4,1629.6 1037.3,1593.2 1051.2,1565.8 1065.1,1547.1 1079.0,1537.4 1092.8,1536.5 1106.7,1544.8 1120.6,1562.4 1134.5,1589.1 1148.4,1624.9 1162.2,1669.4 1176.1,1719.3 1190.0,1760.2 1203.9,1760.2 1217.8,1719.3 1231.6,1669.4 1245.5,1624.9 1259.4,1589.1 1273.3,1562.4 1287.2,1544.8 1301.0,1536.5 1314.9,1537.4 1328.8,1547.1 1342.7,1565.8 1356.6,1593.2 1370.4,1629.6 1384.3,1674.8 1398.2,1728.9 1412.1,1791.9 1426.0,1863.7 1439.8,1944.4 1453.7,2034.0 1467.6,2132.4 1481.5,2239.7 1495.4,2355.9 1509.2,2480.9 1523.1,2600.7 1537.0,2600.7 1550.9,2600.7 1564.8,2600.7 1578.6,2600.7 1592.5,2600.7 1606.4,2600.7 1620.3,2600.7 1634.2,2600.7 1648.0,2600.7 1661.9,2600.7 1675.8,2600.7 1689.7,2600.7 1703.6,2600.7 1717.4,2600.7 1731.3,2600.7 1745.2,2600.7 1759.1,2600.7 1773.0,2600.7 1786.8,2600.7 1800.7,2600.7 1814.6,2600.7 1828.5,2600.7 1842.4,2600.7 1856.2,2600.7 1870.1,2600.7"/><polyline fill="none" stroke="#0000ff" stroke-width="9" stroke-linejoin="round" stroke-linecap="round" points="523.8,2600.7 537.6,2600.7 551.5,2600.7 565.4,2600.7 579.3,2600.7 593.2,2600.7 607.0,2600.7 620.9,2600.7 634.8,2600.7 648.7,2600.7 662.6,2600.7 676.4,2600.7 690.3,2600.7 704.2,2600.7 718.1,2600.7 732.0,2600.7 745.8,2600.7 759.7,2600.7 773.6,2545.2 787.5,2422.1 801.4,2306.4 815.2,2198.1 829.1,2097.3 843.0,2003.9 856.9,1918.0 870.8,1839.5 884.6,1768.4 898.5,1704.8 912.4,1648.6 926.3,1599.8 940.2,1558.4 954.0,1524.5 967.9,1498.1 981.8,1479.0 995.7,1467.4 1009.6,1463.3 1023.4,1466.5 1037.3,1477.3 1051.2,1495.4 1065.1,1521.0 1079.0,1554.0 1092.8,1594.4 1106.7,1642.3 1120.6,1697.6 1134.5,1760.4 1148.4,1830.5 1162.2,1908.0 1176.1,1991.2 1190.0,2064.5 1203.9,2064.5 1217.8,1991.2 1231.6,1908.0 1245.5,1830.5 1259.4,1760.4 1273.3,1697.6 1287.2,1642.3 1301.0,1594.4 1314.9,1554.0 1328.8,1521.0 1342.7,1495.4 1356.6,1477.3 1370.4,1466.5 1384.3,1463.3 1398.2,1467.4 1412.1,1479.0 1426.0,1498.1 1439.8,1524.5 1453.7,1558.4 1467.6,1599.8 1481.5,1648.6 1495.4,1704.8 1509.2,1768.4 1523.1,1839.5 1537.0,1918.0 1550.9,2003.9 1564.8,2097.3 1578.6,2198.1 1592.5,2306.4 1606.4,2422.1 1620.3,2545.2 1634.2,2600.7 1648.0,2600.7 1661.9,2600.7 1675.8,2600.7 1689.7,2600.7 1703.6,2600.7 1717.4,2600.7 1731.3,2600.7 1745.2,2600.7 1759.1,2600.7 1773.0,2600.7 1786.8,2600.7 1800.7,2600.7 1814.6,2600.7 1828.5,2600.7 1842.4,2600.7 1856.2,2600.7 1870.1,2600.7"/><polyline fill="none" stroke="#ff00ff" stroke-width="9" stroke-linejoin="round" stroke-linecap="round" points="523.8,2107.6 537.6,2050.4 551.5,1995.7 565.4,1943.5 579.3,1893.8 593.2,1846.6 607.0,1801.8 620.9,1759.5 634.8,1719.5 648.7,1681.9 662.6,1646.6 676.4,1613.5 690.3,1582.7 704.2,1554.1 718.1,1527.6 732.0,1503.1 745.8,1480.6 759.7,1460.0 773.6,1441.3 787.5,1424.3 801.4,1409.0 815.2,1395.4 829.1,1383.4 843.0,1373.0 856.9,1364.3 870.8,1357.1 884.6,1351.6 898.5,1347.7 912.4,1345.6 926.3,1345.2 940.2,1346.7 954.0,1350.0 967.9,1355.3 981.8,1362.5 995.7,1371.8 1009.6,1383.1 1023.4,1396.5 1037.3,1412.0 1051.2,1429.7 1065.1,1449.5 1079.0,1471.4 1092.8,1495.6 1106.7,1521.9 1120.6,1550.3 1134.5,1580.5 1148.4,1612.1 1162.2,1643.5 1176.1,1671.0 1190.0,1688.2 1203.9,1688.2 1217.8,1671.0 1231.6,1643.5 1245.5,1612.1 1259.4,1580.5 1273.3,1550.3 1287.2,1521.9 1301.0,1495.6 1314.9,1471.4 1328.8,1449.5 1342.7,1429.7 1356.6,1412.0 1370.4,1396.5 1384.3,1383.1 1398.2,1371.8 1412.1,1362.5 1426.0,1355.3 1439.8,1350.0 1453.7,1346.7 1467.6,1345.2 1481.5,1345.6 1495.4,1347.7 1509.2,1351.6 1523.1,1357.1 1537.0,1364.3 1550.9,1373.0 1564.8,1383.4 1578.6,1395.4 1592.5,1409.0 1606.4,1424.3 1620.3,1441.3 1634.2,1460.0 1648.0,1480.6 1661.9,1503.1 1675.8,1527.6 1689.7,1554.1 1703.6,1582.7 1717.4,1613.5 1731.3,1646.6 1745.2,1681.9 1759.1,1719.5 1773.0,1759.5 1786.8,1801.8 1800.7,1846.6 1814.6,1893.8 1828.5,1943.5 1842.4,1995.7 1856.2,2050.4 1870.1,2107.6"/><polyline fill="none" stroke="#008000" stroke-width="9" stroke-linejoin="round" stroke-linecap="round" points="523.8,2082.8 537.6,2005.0 551.5,1934.0 565.4,1869.7 579.3,1812.2 593.2,1761.4 607.0,1717.4 620.9,1680.2 634.8,1649.8 648.7,1626.1 662.6,1609.2 676.4,1599.0 690.3,1595.6 704.2,1599.0 718.1,1609.2 732.0,1626.1 745.8,1649.8 759.7,1680.2 773.6,1717.4 787.5,1761.4 801.4,1812.2 815.2,1869.7 829.1,1934.0 843.0,2005.0 856.9,2082.8 870.8,2167.4 884.6,2258.8 898.5,2356.9 912.4,2461.8 926.3,2573.5 940.2,2600.7 954.0,2600.7 967.9,2600.7 981.8,2600.7 995.7,2600.7 1009.6,2600.7 1023.4,2600.7 1037.3,2600.7 1051.2,2600.7 1065.1,2600.7 1079.0,2600.7 1092.8,2600.7 1106.7,2600.7 1120.6,2600.7 1134.5,2600.7 1148.4,2600.7 1162.2,2600.7 1176.1,2600.7 1190.0,2600.7 1203.9,2600.7 1217.8,2600.7 1231.6,2600.7 1245.5,2600.7 1259.4,2600.7 1273.3,2600.7 1287.2,2600.7 1301.0,2600.7 1314.9,2600.7 1328.8,2600.7 1342.7,2600.7 1356.6,2600.7 1370.4,2600.7 1384.3,2600.7 1398.2,2600.7 1412.1,2600.7 1426.0,2600.7 1439.8,2600.7 1453.7,2600.7 1467.6,2573.5 1481.5,2461.8 1495.4,2356.9 1509.2,2258.8 1523.1,2167.4 1537.0,2082.8 1550.9,2005.0 1564.8,1934.0 1578.6,1869.7 1592.5,1812.2 1606.4,1761.4 1620.3,1717.4 1634.2,1680.2 1648.0,1649.8 1661.9,1626.1 1675.8,1609.2 1689.7,1599.0 1703.6,1595.6 1717.4,1599.0 1731.3,1609.2 1745.2,1626.1 1759.1,1649.8 1773.0,1680.2 1786.8,1717.4 1800.7,1761.4 1814.6,1812.2 1828.5,1869.7 1842.4,1934.0 1856.2,2005.0 1870.1,2082.8"/></g><polyline fill="none" stroke="#ff8000" stroke-width="9" stroke-linejoin="round" stroke-linecap="round" points="523.8,2007.0 537.6,1949.1 551.5,1890.7 565.4,1834.2 579.3,1781.3 593.2,1732.9 607.0,1689.6 620.9,1651.6 634.8,1618.7 648.7,1590.8 662.6,1567.3 676.4,1547.5 690.3,1530.5 704.2,1515.0 718.1,1500.1 732.0,1484.9 745.8,1469.1 759.7,1452.9 773.6,1436.8 787.5,1421.2 801.4,1406.7 815.2,1393.4 829.1,1381.5 843.0,1371.1 856.9,1362.3 870.8,1354.9 884.6,1348.9 898.5,1344.3 912.4,1341.0 926.3,1338.8 940.2,1337.6 954.0,1337.3 967.9,1338.1 981.8,1340.1 995.7,1343.8 1009.6,1349.5 1023.4,1357.2 1037.3,1367.0 1051.2,1378.6 1065.1,1391.6 1079.0,1405.6 1092.8,1420.5 1106.7,1436.4 1120.6,1452.9 1134.5,1469.5 1148.4,1484.7 1162.2,1497.2 1176.1,1505.8 1190.0,1510.1 1203.9,1510.1 1217.8,1505.8 1231.6,1497.2 1245.5,1484.7 1259.4,1469.5 1273.3,1452.9 1287.2,1436.4 1301.0,1420.5 1314.9,1405.6 1328.8,1391.6 1342.7,1378.6 1356.6,1367.0 1370.4,1357.2 1384.3,1349.5 1398.2,1343.8 1412.1,1340.1 1426.0,1338.1 1439.8,1337.3 1453.7,1337.6 1467.6,1338.8 1481.5,1341.0 1495.4,1344.3 1509.2,1348.9 1523.1,1354.9 1537.0,1362.3 1550.9,1371.1 1564.8,1381.5 1578.6,1393.4 1592.5,1406.7 1606.4,1421.2 1620.3,1436.8 1634.2,1452.9 1648.0,1469.1 1661.9,1484.9 1675.8,1500.1 1689.7,1515.0 1703.6,1530.5 1717.4,1547.5 1731.3,1567.3 1745.2,1590.8 1759.1,1618.7 1773.0,1651.6 1786.8,1689.6 1800.7,1732.9 1814.6,1781.3 1828.5,1834.2 1842.4,1890.7 1856.2,1949.1 1870.1,2007.0"/>
<path d="M357.2 2306.1 V3052.6" stroke="#000" stroke-width="7" stroke-linecap="round" fill="none"/><path d="M357.2 3017.8 H322.4 M357.2 2953.1 H339.4 M357.2 2888.4 H322.4 M357.2 2823.7 H339.4 M357.2 2759.0 H322.4 M357.2 2694.3 H339.4 M357.2 2629.6 H322.4 M357.2 2564.9 H339.4 M357.2 2500.2 H322.4 M357.2 2435.5 H339.4 M357.2 2370.8 H322.4 M357.2 2306.1 H339.4 " stroke="#000" stroke-width="7" stroke-linecap="round" fill="none"/><text transform="translate(172.20,3040.30) scale(1,1.035)" font-size="76"> 40</text><path transform="translate(172.20,3040.30) scale(0.03711,-0.03711)" d="M763 0H583V1147Q518 1085 412 1023Q306 961 222 930V1104Q373 1175 486 1276Q599 1377 646 1466H763Z"/><text transform="translate(172.20,2910.90) scale(1,1.035)" font-size="76"> 50</text><path transform="translate(172.20,2910.90) scale(0.03711,-0.03711)" d="M763 0H583V1147Q518 1085 412 1023Q306 961 222 930V1104Q373 1175 486 1276Q599 1377 646 1466H763Z"/><text transform="translate(172.20,2781.50) scale(1,1.035)" font-size="76"> 60</text><path transform="translate(172.20,2781.50) scale(0.03711,-0.03711)" d="M763 0H583V1147Q518 1085 412 1023Q306 961 222 930V1104Q373 1175 486 1276Q599 1377 646 1466H763Z"/><text transform="translate(172.20,2652.10) scale(1,1.035)" font-size="76"> 70</text><path transform="translate(172.20,2652.10) scale(0.03711,-0.03711)" d="M763 0H583V1147Q518 1085 412 1023Q306 961 222 930V1104Q373 1175 486 1276Q599 1377 646 1466H763Z"/><text transform="translate(172.20,2522.70) scale(1,1.035)" font-size="76"> 80</text><path transform="translate(172.20,2522.70) scale(0.03711,-0.03711)" d="M763 0H583V1147Q518 1085 412 1023Q306 961 222 930V1104Q373 1175 486 1276Q599 1377 646 1466H763Z"/><text transform="translate(172.20,2393.30) scale(1,1.035)" font-size="76"> 90</text><path transform="translate(172.20,2393.30) scale(0.03711,-0.03711)" d="M763 0H583V1147Q518 1085 412 1023Q306 961 222 930V1104Q373 1175 486 1276Q599 1377 646 1466H763Z"/><path d="M357.2 3017.8 H2022.8" stroke="#000" stroke-width="7" stroke-linecap="round" fill="none"/><path d="M357.2 3017.8 V3052.6 M426.6 3017.8 V3035.6 M496.0 3017.8 V3052.6 M565.4 3017.8 V3035.6 M634.8 3017.8 V3052.6 M704.2 3017.8 V3035.6 M773.6 3017.8 V3052.6 M843.0 3017.8 V3035.6 M912.4 3017.8 V3052.6 M981.8 3017.8 V3035.6 M1051.2 3017.8 V3052.6 M1120.6 3017.8 V3035.6 M1190.0 3017.8 V3052.6 M1259.4 3017.8 V3035.6 M1328.8 3017.8 V3052.6 M1398.2 3017.8 V3035.6 M1467.6 3017.8 V3052.6 M1537.0 3017.8 V3035.6 M1606.4 3017.8 V3052.6 M1675.8 3017.8 V3035.6 M1745.2 3017.8 V3052.6 M1814.6 3017.8 V3035.6 M1884.0 3017.8 V3052.6 M1953.4 3017.8 V3035.6 M2022.8 3017.8 V3052.6 " stroke="#000" stroke-width="7" stroke-linecap="round" fill="none"/><text transform="translate(314.93,3132.80) scale(1,1.035)" font-size="76">60</text><text transform="translate(453.73,3132.80) scale(1,1.035)" font-size="76">70</text><text transform="translate(592.53,3132.80) scale(1,1.035)" font-size="76">80</text><text transform="translate(731.33,3132.80) scale(1,1.035)" font-size="76">90</text><text transform="translate(849.00,3132.80) scale(1,1.035)" font-size="76"> 00</text><path transform="translate(849.00,3132.80) scale(0.03711,-0.03711)" d="M763 0H583V1147Q518 1085 412 1023Q306 961 222 930V1104Q373 1175 486 1276Q599 1377 646 1466H763Z"/><text transform="translate(987.80,3132.80) scale(1,1.035)" font-size="76">  0</text><path transform="translate(987.80,3132.80) scale(0.03711,-0.03711)" d="M763 0H583V1147Q518 1085 412 1023Q306 961 222 930V1104Q373 1175 486 1276Q599 1377 646 1466H763Z"/><path transform="translate(1030.07,3132.80) scale(0.03711,-0.03711)" d="M763 0H583V1147Q518 1085 412 1023Q306 961 222 930V1104Q373 1175 486 1276Q599 1377 646 1466H763Z"/><text transform="translate(1126.60,3132.80) scale(1,1.035)" font-size="76"> 20</text><path transform="translate(1126.60,3132.80) scale(0.03711,-0.03711)" d="M763 0H583V1147Q518 1085 412 1023Q306 961 222 930V1104Q373 1175 486 1276Q599 1377 646 1466H763Z"/><text transform="translate(1265.40,3132.80) scale(1,1.035)" font-size="76"> 30</text><path transform="translate(1265.40,3132.80) scale(0.03711,-0.03711)" d="M763 0H583V1147Q518 1085 412 1023Q306 961 222 930V1104Q373 1175 486 1276Q599 1377 646 1466H763Z"/><text transform="translate(1404.20,3132.80) scale(1,1.035)" font-size="76"> 40</text><path transform="translate(1404.20,3132.80) scale(0.03711,-0.03711)" d="M763 0H583V1147Q518 1085 412 1023Q306 961 222 930V1104Q373 1175 486 1276Q599 1377 646 1466H763Z"/><text transform="translate(1543.00,3132.80) scale(1,1.035)" font-size="76"> 50</text><path transform="translate(1543.00,3132.80) scale(0.03711,-0.03711)" d="M763 0H583V1147Q518 1085 412 1023Q306 961 222 930V1104Q373 1175 486 1276Q599 1377 646 1466H763Z"/><text transform="translate(1681.80,3132.80) scale(1,1.035)" font-size="76"> 60</text><path transform="translate(1681.80,3132.80) scale(0.03711,-0.03711)" d="M763 0H583V1147Q518 1085 412 1023Q306 961 222 930V1104Q373 1175 486 1276Q599 1377 646 1466H763Z"/><text transform="translate(1820.60,3132.80) scale(1,1.035)" font-size="76"> 70</text><path transform="translate(1820.60,3132.80) scale(0.03711,-0.03711)" d="M763 0H583V1147Q518 1085 412 1023Q306 961 222 930V1104Q373 1175 486 1276Q599 1377 646 1466H763Z"/><text transform="translate(1959.40,3132.80) scale(1,1.035)" font-size="76"> 80</text><path transform="translate(1959.40,3132.80) scale(0.03711,-0.03711)" d="M763 0H583V1147Q518 1085 412 1023Q306 961 222 930V1104Q373 1175 486 1276Q599 1377 646 1466H763Z"/><text transform="translate(1190,3232.6) scale(1,1.035)" font-size="92" text-anchor="middle">Mass, a.m.u.</text><text transform="translate(137.1,2960.0) rotate(-90) scale(1,1.035)" font-size="92">&lt;TKE&gt;, MeV</text><path d="M523.8 2865.0 V2916.7 M506.3 2865.0 H541.3 M506.3 2916.7 H541.3 M537.6 2790.4 V2846.9 M520.1 2790.4 H555.1 M520.1 2846.9 H555.1 M551.5 2698.8 V2764.8 M534.0 2698.8 H569.0 M534.0 2764.8 H569.0 M565.4 2779.2 V2807.7 M547.9 2779.2 H582.9 M547.9 2807.7 H582.9 M579.3 2734.8 V2762.2 M561.8 2734.8 H596.8 M561.8 2762.2 H596.8 M593.2 2751.9 V2781.6 M575.7 2751.9 H610.7 M575.7 2781.6 H610.7 M607.0 2710.1 V2735.4 M589.5 2710.1 H624.5 M589.5 2735.4 H624.5 M620.9 2703.4 V2724.1 M603.4 2703.4 H638.4 M603.4 2724.1 H638.4 M634.8 2699.5 V2715.0 M617.3 2699.5 H652.3 M617.3 2715.0 H652.3 M648.7 2675.9 V2691.2 M631.2 2675.9 H666.2 M631.2 2691.2 H666.2 M662.6 2668.6 V2681.1 M645.1 2668.6 H680.1 M645.1 2681.1 H680.1 M676.4 2669.5 V2680.3 M658.9 2669.5 H693.9 M658.9 2680.3 H693.9 M690.3 2651.5 V2661.3 M672.8 2651.5 H707.8 M672.8 2661.3 H707.8 M704.2 2660.9 V2669.8 M686.7 2660.9 H721.7 M686.7 2669.8 H721.7 M718.1 2658.4 V2666.2 M700.6 2658.4 H735.6 M700.6 2666.2 H735.6 M732.0 2652.0 V2659.0 M714.5 2652.0 H749.5 M714.5 2659.0 H749.5 M745.8 2643.6 V2650.0 M728.3 2643.6 H763.3 M728.3 2650.0 H763.3 M759.7 2634.5 V2640.5 M742.2 2634.5 H777.2 M742.2 2640.5 H777.2 M773.6 2626.7 V2632.0 M756.1 2626.7 H791.1 M756.1 2632.0 H791.1 M787.5 2624.0 V2628.9 M770.0 2624.0 H805.0 M770.0 2628.9 H805.0 M801.4 2615.9 V2620.5 M783.9 2615.9 H818.9 M783.9 2620.5 H818.9 M815.2 2610.5 V2614.8 M797.7 2610.5 H832.7 M797.7 2614.8 H832.7 M829.1 2596.3 V2600.3 M811.6 2596.3 H846.6 M811.6 2600.3 H846.6 M843.0 2592.2 V2595.9 M825.5 2592.2 H860.5 M825.5 2595.9 H860.5 M856.9 2582.9 V2586.5 M839.4 2582.9 H874.4 M839.4 2586.5 H874.4 M870.8 2572.4 V2575.8 M853.3 2572.4 H888.3 M853.3 2575.8 H888.3 M884.6 2564.5 V2567.8 M867.1 2564.5 H902.1 M867.1 2567.8 H902.1 M898.5 2557.6 V2560.8 M881.0 2557.6 H916.0 M881.0 2560.8 H916.0 M912.4 2551.2 V2554.3 M894.9 2551.2 H929.9 M894.9 2554.3 H929.9 M926.3 2543.2 V2546.3 M908.8 2543.2 H943.8 M908.8 2546.3 H943.8 M940.2 2536.7 V2539.8 M922.7 2536.7 H957.7 M922.7 2539.8 H957.7 M954.0 2531.6 V2534.7 M936.5 2531.6 H971.5 M936.5 2534.7 H971.5 M967.9 2523.2 V2526.3 M950.4 2523.2 H985.4 M950.4 2526.3 H985.4 M981.8 2514.2 V2517.3 M964.3 2514.2 H999.3 M964.3 2517.3 H999.3 M995.7 2506.4 V2509.5 M978.2 2506.4 H1013.2 M978.2 2509.5 H1013.2 M1009.6 2501.2 V2504.4 M992.1 2501.2 H1027.1 M992.1 2504.4 H1027.1 M1023.4 2498.5 V2501.9 M1005.9 2498.5 H1040.9 M1005.9 2501.9 H1040.9 M1037.3 2498.4 V2502.0 M1019.8 2498.4 H1054.8 M1019.8 2502.0 H1054.8 M1051.2 2499.6 V2503.4 M1033.7 2499.6 H1068.7 M1033.7 2503.4 H1068.7 M1065.1 2507.2 V2511.3 M1047.6 2507.2 H1082.6 M1047.6 2511.3 H1082.6 M1079.0 2513.9 V2518.3 M1061.5 2513.9 H1096.5 M1061.5 2518.3 H1096.5 M1092.8 2526.7 V2531.4 M1075.3 2526.7 H1110.3 M1075.3 2531.4 H1110.3 M1106.7 2536.3 V2541.7 M1089.2 2536.3 H1124.2 M1089.2 2541.7 H1124.2 M1120.6 2547.9 V2554.0 M1103.1 2547.9 H1138.1 M1103.1 2554.0 H1138.1 M1134.5 2564.8 V2571.7 M1117.0 2564.8 H1152.0 M1117.0 2571.7 H1152.0 M1148.4 2583.5 V2591.1 M1130.9 2583.5 H1165.9 M1130.9 2591.1 H1165.9 M1162.2 2611.8 V2619.7 M1144.7 2611.8 H1179.7 M1144.7 2619.7 H1179.7 M1176.1 2624.0 V2632.6 M1158.6 2624.0 H1193.6 M1158.6 2632.6 H1193.6 M1190.0 2622.7 V2631.4 M1172.5 2622.7 H1207.5 M1172.5 2631.4 H1207.5 M1203.9 2622.7 V2631.4 M1186.4 2622.7 H1221.4 M1186.4 2631.4 H1221.4 M1217.8 2624.0 V2632.6 M1200.3 2624.0 H1235.3 M1200.3 2632.6 H1235.3 M1231.6 2611.8 V2619.7 M1214.1 2611.8 H1249.1 M1214.1 2619.7 H1249.1 M1245.5 2583.5 V2591.1 M1228.0 2583.5 H1263.0 M1228.0 2591.1 H1263.0 M1259.4 2564.8 V2571.7 M1241.9 2564.8 H1276.9 M1241.9 2571.7 H1276.9 M1273.3 2547.9 V2554.0 M1255.8 2547.9 H1290.8 M1255.8 2554.0 H1290.8 M1287.2 2536.3 V2541.7 M1269.7 2536.3 H1304.7 M1269.7 2541.7 H1304.7 M1301.0 2526.7 V2531.4 M1283.5 2526.7 H1318.5 M1283.5 2531.4 H1318.5 M1314.9 2513.9 V2518.3 M1297.4 2513.9 H1332.4 M1297.4 2518.3 H1332.4 M1328.8 2507.2 V2511.3 M1311.3 2507.2 H1346.3 M1311.3 2511.3 H1346.3 M1342.7 2499.6 V2503.4 M1325.2 2499.6 H1360.2 M1325.2 2503.4 H1360.2 M1356.6 2498.4 V2502.0 M1339.1 2498.4 H1374.1 M1339.1 2502.0 H1374.1 M1370.4 2498.5 V2501.9 M1352.9 2498.5 H1387.9 M1352.9 2501.9 H1387.9 M1384.3 2501.2 V2504.4 M1366.8 2501.2 H1401.8 M1366.8 2504.4 H1401.8 M1398.2 2506.4 V2509.5 M1380.7 2506.4 H1415.7 M1380.7 2509.5 H1415.7 M1412.1 2514.2 V2517.3 M1394.6 2514.2 H1429.6 M1394.6 2517.3 H1429.6 M1426.0 2523.2 V2526.3 M1408.5 2523.2 H1443.5 M1408.5 2526.3 H1443.5 M1439.8 2531.6 V2534.7 M1422.3 2531.6 H1457.3 M1422.3 2534.7 H1457.3 M1453.7 2536.7 V2539.8 M1436.2 2536.7 H1471.2 M1436.2 2539.8 H1471.2 M1467.6 2543.2 V2546.3 M1450.1 2543.2 H1485.1 M1450.1 2546.3 H1485.1 M1481.5 2551.2 V2554.3 M1464.0 2551.2 H1499.0 M1464.0 2554.3 H1499.0 M1495.4 2557.6 V2560.8 M1477.9 2557.6 H1512.9 M1477.9 2560.8 H1512.9 M1509.2 2564.5 V2567.8 M1491.7 2564.5 H1526.7 M1491.7 2567.8 H1526.7 M1523.1 2572.4 V2575.8 M1505.6 2572.4 H1540.6 M1505.6 2575.8 H1540.6 M1537.0 2582.9 V2586.5 M1519.5 2582.9 H1554.5 M1519.5 2586.5 H1554.5 M1550.9 2592.2 V2595.9 M1533.4 2592.2 H1568.4 M1533.4 2595.9 H1568.4 M1564.8 2596.3 V2600.3 M1547.3 2596.3 H1582.3 M1547.3 2600.3 H1582.3 M1578.6 2610.5 V2614.8 M1561.1 2610.5 H1596.1 M1561.1 2614.8 H1596.1 M1592.5 2615.9 V2620.5 M1575.0 2615.9 H1610.0 M1575.0 2620.5 H1610.0 M1606.4 2624.0 V2628.9 M1588.9 2624.0 H1623.9 M1588.9 2628.9 H1623.9 M1620.3 2626.7 V2632.0 M1602.8 2626.7 H1637.8 M1602.8 2632.0 H1637.8 M1634.2 2634.5 V2640.5 M1616.7 2634.5 H1651.7 M1616.7 2640.5 H1651.7 M1648.0 2643.6 V2650.0 M1630.5 2643.6 H1665.5 M1630.5 2650.0 H1665.5 M1661.9 2652.0 V2659.0 M1644.4 2652.0 H1679.4 M1644.4 2659.0 H1679.4 M1675.8 2658.4 V2666.2 M1658.3 2658.4 H1693.3 M1658.3 2666.2 H1693.3 M1689.7 2660.9 V2669.8 M1672.2 2660.9 H1707.2 M1672.2 2669.8 H1707.2 M1703.6 2651.5 V2661.3 M1686.1 2651.5 H1721.1 M1686.1 2661.3 H1721.1 M1717.4 2669.5 V2680.3 M1699.9 2669.5 H1734.9 M1699.9 2680.3 H1734.9 M1731.3 2668.6 V2681.1 M1713.8 2668.6 H1748.8 M1713.8 2681.1 H1748.8 M1745.2 2675.9 V2691.2 M1727.7 2675.9 H1762.7 M1727.7 2691.2 H1762.7 M1759.1 2699.5 V2715.0 M1741.6 2699.5 H1776.6 M1741.6 2715.0 H1776.6 M1773.0 2703.4 V2724.1 M1755.5 2703.4 H1790.5 M1755.5 2724.1 H1790.5 M1786.8 2710.1 V2735.4 M1769.3 2710.1 H1804.3 M1769.3 2735.4 H1804.3 M1800.7 2751.9 V2781.6 M1783.2 2751.9 H1818.2 M1783.2 2781.6 H1818.2 M1814.6 2734.8 V2762.2 M1797.1 2734.8 H1832.1 M1797.1 2762.2 H1832.1 M1828.5 2779.2 V2807.7 M1811.0 2779.2 H1846.0 M1811.0 2807.7 H1846.0 M1842.4 2698.8 V2764.8 M1824.9 2698.8 H1859.9 M1824.9 2764.8 H1859.9 M1856.2 2790.4 V2846.9 M1838.7 2790.4 H1873.7 M1838.7 2846.9 H1873.7 M1870.1 2865.0 V2916.7 M1852.6 2865.0 H1887.6 M1852.6 2916.7 H1887.6 " stroke="#000" stroke-width="3" fill="none"/><path d="M517.8 2884.9 h12 v12 h-12 z M531.6 2812.7 h12 v12 h-12 z M545.5 2725.8 h12 v12 h-12 z M559.4 2787.4 h12 v12 h-12 z M573.3 2742.5 h12 v12 h-12 z M587.2 2760.8 h12 v12 h-12 z M601.0 2716.8 h12 v12 h-12 z M614.9 2707.7 h12 v12 h-12 z M628.8 2701.2 h12 v12 h-12 z M642.7 2677.6 h12 v12 h-12 z M656.6 2668.9 h12 v12 h-12 z M670.4 2668.9 h12 v12 h-12 z M684.3 2650.4 h12 v12 h-12 z M698.2 2659.3 h12 v12 h-12 z M712.1 2656.3 h12 v12 h-12 z M726.0 2649.5 h12 v12 h-12 z M739.8 2640.8 h12 v12 h-12 z M753.7 2631.5 h12 v12 h-12 z M767.6 2623.3 h12 v12 h-12 z M781.5 2620.5 h12 v12 h-12 z M795.4 2612.2 h12 v12 h-12 z M809.2 2606.6 h12 v12 h-12 z M823.1 2592.3 h12 v12 h-12 z M837.0 2588.0 h12 v12 h-12 z M850.9 2578.7 h12 v12 h-12 z M864.8 2568.1 h12 v12 h-12 z M878.6 2560.2 h12 v12 h-12 z M892.5 2553.2 h12 v12 h-12 z M906.4 2546.7 h12 v12 h-12 z M920.3 2538.7 h12 v12 h-12 z M934.2 2532.2 h12 v12 h-12 z M948.0 2527.2 h12 v12 h-12 z M961.9 2518.8 h12 v12 h-12 z M975.8 2509.7 h12 v12 h-12 z M989.7 2502.0 h12 v12 h-12 z M1003.6 2496.8 h12 v12 h-12 z M1017.4 2494.2 h12 v12 h-12 z M1031.3 2494.2 h12 v12 h-12 z M1045.2 2495.5 h12 v12 h-12 z M1059.1 2503.3 h12 v12 h-12 z M1073.0 2510.1 h12 v12 h-12 z M1086.8 2523.1 h12 v12 h-12 z M1100.7 2533.0 h12 v12 h-12 z M1114.6 2544.9 h12 v12 h-12 z M1128.5 2562.3 h12 v12 h-12 z M1142.4 2581.3 h12 v12 h-12 z M1156.2 2609.8 h12 v12 h-12 z M1170.1 2622.3 h12 v12 h-12 z M1184.0 2621.0 h12 v12 h-12 z M1197.9 2621.0 h12 v12 h-12 z M1211.8 2622.3 h12 v12 h-12 z M1225.6 2609.8 h12 v12 h-12 z M1239.5 2581.3 h12 v12 h-12 z M1253.4 2562.3 h12 v12 h-12 z M1267.3 2544.9 h12 v12 h-12 z M1281.2 2533.0 h12 v12 h-12 z M1295.0 2523.1 h12 v12 h-12 z M1308.9 2510.1 h12 v12 h-12 z M1322.8 2503.3 h12 v12 h-12 z M1336.7 2495.5 h12 v12 h-12 z M1350.6 2494.2 h12 v12 h-12 z M1364.4 2494.2 h12 v12 h-12 z M1378.3 2496.8 h12 v12 h-12 z M1392.2 2502.0 h12 v12 h-12 z M1406.1 2509.7 h12 v12 h-12 z M1420.0 2518.8 h12 v12 h-12 z M1433.8 2527.2 h12 v12 h-12 z M1447.7 2532.2 h12 v12 h-12 z M1461.6 2538.7 h12 v12 h-12 z M1475.5 2546.7 h12 v12 h-12 z M1489.4 2553.2 h12 v12 h-12 z M1503.2 2560.2 h12 v12 h-12 z M1517.1 2568.1 h12 v12 h-12 z M1531.0 2578.7 h12 v12 h-12 z M1544.9 2588.0 h12 v12 h-12 z M1558.8 2592.3 h12 v12 h-12 z M1572.6 2606.6 h12 v12 h-12 z M1586.5 2612.2 h12 v12 h-12 z M1600.4 2620.5 h12 v12 h-12 z M1614.3 2623.3 h12 v12 h-12 z M1628.2 2631.5 h12 v12 h-12 z M1642.0 2640.8 h12 v12 h-12 z M1655.9 2649.5 h12 v12 h-12 z M1669.8 2656.3 h12 v12 h-12 z M1683.7 2659.3 h12 v12 h-12 z M1697.6 2650.4 h12 v12 h-12 z M1711.4 2668.9 h12 v12 h-12 z M1725.3 2668.9 h12 v12 h-12 z M1739.2 2677.6 h12 v12 h-12 z M1753.1 2701.2 h12 v12 h-12 z M1767.0 2707.7 h12 v12 h-12 z M1780.8 2716.8 h12 v12 h-12 z M1794.7 2760.8 h12 v12 h-12 z M1808.6 2742.5 h12 v12 h-12 z M1822.5 2787.4 h12 v12 h-12 z M1836.4 2725.8 h12 v12 h-12 z M1850.2 2812.7 h12 v12 h-12 z M1864.1 2884.9 h12 v12 h-12 z " fill="#000"/><polyline fill="none" stroke="#ff0000" stroke-width="9" stroke-linejoin="round" stroke-linecap="round" points="523.8,3005.2 537.6,2990.9 551.5,2977.0 565.4,2963.3 579.3,2949.9 593.2,2936.8 607.0,2924.0 620.9,2911.5 634.8,2899.4 648.7,2887.5 662.6,2875.9 676.4,2864.6 690.3,2853.6 704.2,2842.9 718.1,2832.4 732.0,2822.3 745.8,2812.5 759.7,2803.0 773.6,2793.8 787.5,2784.9 801.4,2776.2 815.2,2767.9 829.1,2759.9 843.0,2752.2 856.9,2744.7 870.8,2737.6 884.6,2730.7 898.5,2724.2 912.4,2718.0 926.3,2712.0 940.2,2706.4 954.0,2701.0 967.9,2696.0 981.8,2691.2 995.7,2686.7 1009.6,2682.6 1023.4,2678.7 1037.3,2675.1 1051.2,2671.9 1065.1,2668.9 1079.0,2666.2 1092.8,2663.8 1106.7,2661.8 1120.6,2660.0 1134.5,2658.5 1148.4,2657.3 1162.2,2656.4 1176.1,2655.8 1190.0,2655.5 1203.9,2655.5 1217.8,2655.8 1231.6,2656.4 1245.5,2657.3 1259.4,2658.5 1273.3,2660.0 1287.2,2661.8 1301.0,2663.8 1314.9,2666.2 1328.8,2668.9 1342.7,2671.9 1356.6,2675.1 1370.4,2678.7 1384.3,2682.6 1398.2,2686.7 1412.1,2691.2 1426.0,2696.0 1439.8,2701.0 1453.7,2706.4 1467.6,2712.0 1481.5,2718.0 1495.4,2724.2 1509.2,2730.7 1523.1,2737.6 1537.0,2744.7 1550.9,2752.2 1564.8,2759.9 1578.6,2767.9 1592.5,2776.2 1606.4,2784.9 1620.3,2793.8 1634.2,2803.0 1648.0,2812.5 1661.9,2822.3 1675.8,2832.4 1689.7,2842.9 1703.6,2853.6 1717.4,2864.6 1731.3,2875.9 1745.2,2887.5 1759.1,2899.4 1773.0,2911.5 1786.8,2924.0 1800.7,2936.8 1814.6,2949.9 1828.5,2963.3 1842.4,2977.0 1856.2,2990.9 1870.1,3005.2"/><polyline fill="none" stroke="#808000" stroke-width="9" stroke-linejoin="round" stroke-linecap="round" points="523.8,2904.5 537.6,2889.3 551.5,2874.5 565.4,2859.9 579.3,2845.7 593.2,2831.8 607.0,2818.2 620.9,2804.9 634.8,2791.9 648.7,2779.3 662.6,2766.9 676.4,2754.9 690.3,2743.2 704.2,2731.8 718.1,2720.8 732.0,2710.0 745.8,2699.6 759.7,2689.5 773.6,2679.6 787.5,2670.2 801.4,2661.0 815.2,2652.1 829.1,2643.6 843.0,2635.4 856.9,2627.5 870.8,2619.9 884.6,2612.6 898.5,2605.6 912.4,2599.0 926.3,2592.7 940.2,2586.7 954.0,2581.0 967.9,2575.6 981.8,2570.5 995.7,2565.8 1009.6,2561.4 1023.4,2557.3 1037.3,2553.5 1051.2,2550.0 1065.1,2546.8 1079.0,2544.0 1092.8,2541.4 1106.7,2539.2 1120.6,2537.3 1134.5,2535.8 1148.4,2534.5 1162.2,2533.5 1176.1,2532.9 1190.0,2532.6 1203.9,2532.6 1217.8,2532.9 1231.6,2533.5 1245.5,2534.5 1259.4,2535.8 1273.3,2537.3 1287.2,2539.2 1301.0,2541.4 1314.9,2544.0 1328.8,2546.8 1342.7,2550.0 1356.6,2553.5 1370.4,2557.3 1384.3,2561.4 1398.2,2565.8 1412.1,2570.5 1426.0,2575.6 1439.8,2581.0 1453.7,2586.7 1467.6,2592.7 1481.5,2599.0 1495.4,2605.6 1509.2,2612.6 1523.1,2619.9 1537.0,2627.5 1550.9,2635.4 1564.8,2643.6 1578.6,2652.1 1592.5,2661.0 1606.4,2670.2 1620.3,2679.6 1634.2,2689.5 1648.0,2699.6 1661.9,2710.0 1675.8,2720.8 1689.7,2731.8 1703.6,2743.2 1717.4,2754.9 1731.3,2766.9 1745.2,2779.3 1759.1,2791.9 1773.0,2804.9 1786.8,2818.2 1800.7,2831.8 1814.6,2845.7 1828.5,2859.9 1842.4,2874.5 1856.2,2889.3 1870.1,2904.5"/><polyline fill="none" stroke="#0000ff" stroke-width="9" stroke-linejoin="round" stroke-linecap="round" points="523.8,2769.3 537.6,2753.0 551.5,2737.1 565.4,2721.5 579.3,2706.2 593.2,2691.3 607.0,2676.7 620.9,2662.5 634.8,2648.6 648.7,2635.0 662.6,2621.8 676.4,2608.9 690.3,2596.3 704.2,2584.1 718.1,2572.3 732.0,2560.7 745.8,2549.5 759.7,2538.7 773.6,2528.2 787.5,2518.0 801.4,2508.2 815.2,2498.7 829.1,2489.5 843.0,2480.7 856.9,2472.2 870.8,2464.1 884.6,2456.3 898.5,2448.8 912.4,2441.7 926.3,2434.9 940.2,2428.5 954.0,2422.3 967.9,2416.6 981.8,2411.2 995.7,2406.1 1009.6,2401.3 1023.4,2396.9 1037.3,2392.8 1051.2,2389.1 1065.1,2385.7 1079.0,2382.7 1092.8,2380.0 1106.7,2377.6 1120.6,2375.5 1134.5,2373.8 1148.4,2372.5 1162.2,2371.5 1176.1,2370.8 1190.0,2370.5 1203.9,2370.5 1217.8,2370.8 1231.6,2371.5 1245.5,2372.5 1259.4,2373.8 1273.3,2375.5 1287.2,2377.6 1301.0,2380.0 1314.9,2382.7 1328.8,2385.7 1342.7,2389.1 1356.6,2392.8 1370.4,2396.9 1384.3,2401.3 1398.2,2406.1 1412.1,2411.2 1426.0,2416.6 1439.8,2422.3 1453.7,2428.5 1467.6,2434.9 1481.5,2441.7 1495.4,2448.8 1509.2,2456.3 1523.1,2464.1 1537.0,2472.2 1550.9,2480.7 1564.8,2489.5 1578.6,2498.7 1592.5,2508.2 1606.4,2518.0 1620.3,2528.2 1634.2,2538.7 1648.0,2549.5 1661.9,2560.7 1675.8,2572.3 1689.7,2584.1 1703.6,2596.3 1717.4,2608.9 1731.3,2621.8 1745.2,2635.0 1759.1,2648.6 1773.0,2662.5 1786.8,2676.7 1800.7,2691.3 1814.6,2706.2 1828.5,2721.5 1842.4,2737.1 1856.2,2753.0 1870.1,2769.3"/><polyline fill="none" stroke="#ff00ff" stroke-width="9" stroke-linejoin="round" stroke-linecap="round" points="523.8,2850.5 537.6,2835.7 551.5,2821.2 565.4,2807.0 579.3,2793.1 593.2,2779.5 607.0,2766.2 620.9,2753.3 634.8,2740.6 648.7,2728.3 662.6,2716.2 676.4,2704.5 690.3,2693.1 704.2,2682.0 718.1,2671.2 732.0,2660.7 745.8,2650.5 759.7,2640.6 773.6,2631.1 787.5,2621.8 801.4,2612.9 815.2,2604.2 829.1,2595.9 843.0,2587.9 856.9,2580.1 870.8,2572.7 884.6,2565.6 898.5,2558.8 912.4,2552.4 926.3,2546.2 940.2,2540.3 954.0,2534.8 967.9,2529.5 981.8,2524.6 995.7,2520.0 1009.6,2515.6 1023.4,2511.6 1037.3,2507.9 1051.2,2504.5 1065.1,2501.4 1079.0,2498.7 1092.8,2496.2 1106.7,2494.0 1120.6,2492.2 1134.5,2490.6 1148.4,2489.4 1162.2,2488.5 1176.1,2487.9 1190.0,2487.6 1203.9,2487.6 1217.8,2487.9 1231.6,2488.5 1245.5,2489.4 1259.4,2490.6 1273.3,2492.2 1287.2,2494.0 1301.0,2496.2 1314.9,2498.7 1328.8,2501.4 1342.7,2504.5 1356.6,2507.9 1370.4,2511.6 1384.3,2515.6 1398.2,2520.0 1412.1,2524.6 1426.0,2529.5 1439.8,2534.8 1453.7,2540.3 1467.6,2546.2 1481.5,2552.4 1495.4,2558.8 1509.2,2565.6 1523.1,2572.7 1537.0,2580.1 1550.9,2587.9 1564.8,2595.9 1578.6,2604.2 1592.5,2612.9 1606.4,2621.8 1620.3,2631.1 1634.2,2640.6 1648.0,2650.5 1661.9,2660.7 1675.8,2671.2 1689.7,2682.0 1703.6,2693.1 1717.4,2704.5 1731.3,2716.2 1745.2,2728.3 1759.1,2740.6 1773.0,2753.3 1786.8,2766.2 1800.7,2779.5 1814.6,2793.1 1828.5,2807.0 1842.4,2821.2 1856.2,2835.7 1870.1,2850.5"/><polyline fill="none" stroke="#008000" stroke-width="9" stroke-linejoin="round" stroke-linecap="round" points="523.8,2787.7 537.6,2771.7 551.5,2755.9 565.4,2740.5 579.3,2725.4 593.2,2710.7 607.0,2696.3 620.9,2682.2 634.8,2668.4 648.7,2655.0 662.6,2642.0 676.4,2629.2 690.3,2616.8 704.2,2604.8 718.1,2593.0 732.0,2581.6 745.8,2570.6 759.7,2559.8 773.6,2549.5 787.5,2539.4 801.4,2529.7 815.2,2520.3 829.1,2511.3 843.0,2502.5 856.9,2494.2 870.8,2486.1 884.6,2478.4 898.5,2471.0 912.4,2464.0 926.3,2457.3 940.2,2450.9 954.0,2444.9 967.9,2439.2 981.8,2433.8 995.7,2428.8 1009.6,2424.1 1023.4,2419.8 1037.3,2415.7 1051.2,2412.0 1065.1,2408.7 1079.0,2405.7 1092.8,2403.0 1106.7,2400.7 1120.6,2398.6 1134.5,2397.0 1148.4,2395.6 1162.2,2394.6 1176.1,2394.0 1190.0,2393.6 1203.9,2393.6 1217.8,2394.0 1231.6,2394.6 1245.5,2395.6 1259.4,2397.0 1273.3,2398.6 1287.2,2400.7 1301.0,2403.0 1314.9,2405.7 1328.8,2408.7 1342.7,2412.0 1356.6,2415.7 1370.4,2419.8 1384.3,2424.1 1398.2,2428.8 1412.1,2433.8 1426.0,2439.2 1439.8,2444.9 1453.7,2450.9 1467.6,2457.3 1481.5,2464.0 1495.4,2471.0 1509.2,2478.4 1523.1,2486.1 1537.0,2494.2 1550.9,2502.5 1564.8,2511.3 1578.6,2520.3 1592.5,2529.7 1606.4,2539.4 1620.3,2549.5 1634.2,2559.8 1648.0,2570.6 1661.9,2581.6 1675.8,2593.0 1689.7,2604.8 1703.6,2616.8 1717.4,2629.2 1731.3,2642.0 1745.2,2655.0 1759.1,2668.4 1773.0,2682.2 1786.8,2696.3 1800.7,2710.7 1814.6,2725.4 1828.5,2740.5 1842.4,2755.9 1856.2,2771.7 1870.1,2787.7"/><polyline fill="none" stroke="#ff8000" stroke-width="9" stroke-linejoin="round" stroke-linecap="round" points="523.8,2873.7 537.6,2835.1 551.5,2803.4 565.4,2777.6 579.3,2756.1 593.2,2737.7 607.0,2721.6 620.9,2707.4 634.8,2694.9 648.7,2684.0 662.6,2674.8 676.4,2667.5 690.3,2661.8 704.2,2657.5 718.1,2653.9 732.0,2650.0 745.8,2645.2 759.7,2639.0 773.6,2631.8 787.5,2623.9 801.4,2615.7 815.2,2607.4 829.1,2599.3 843.0,2591.4 856.9,2583.8 870.8,2576.4 884.6,2569.2 898.5,2562.1 912.4,2554.8 926.3,2547.1 940.2,2538.9 954.0,2530.1 967.9,2521.1 981.8,2512.5 995.7,2505.0 1009.6,2499.4 1023.4,2496.6 1037.3,2497.3 1051.2,2501.7 1065.1,2509.6 1079.0,2520.4 1092.8,2533.1 1106.7,2547.0 1120.6,2562.2 1134.5,2578.5 1148.4,2595.5 1162.2,2611.3 1176.1,2623.6 1190.0,2630.3 1203.9,2630.3 1217.8,2623.6 1231.6,2611.3 1245.5,2595.5 1259.4,2578.5 1273.3,2562.2 1287.2,2547.0 1301.0,2533.1 1314.9,2520.4 1328.8,2509.6 1342.7,2501.7 1356.6,2497.3 1370.4,2496.6 1384.3,2499.4 1398.2,2505.0 1412.1,2512.5 1426.0,2521.1 1439.8,2530.1 1453.7,2538.9 1467.6,2547.1 1481.5,2554.8 1495.4,2562.1 1509.2,2569.2 1523.1,2576.4 1537.0,2583.8 1550.9,2591.4 1564.8,2599.3 1578.6,2607.4 1592.5,2615.7 1606.4,2623.9 1620.3,2631.8 1634.2,2639.0 1648.0,2645.2 1661.9,2650.0 1675.8,2653.9 1689.7,2657.5 1703.6,2661.8 1717.4,2667.5 1731.3,2674.8 1745.2,2684.0 1759.1,2694.9 1773.0,2707.4 1786.8,2721.6 1800.7,2737.7 1814.6,2756.1 1828.5,2777.6 1842.4,2803.4 1856.2,2835.1 1870.1,2873.7"/>
</svg></body></html>
